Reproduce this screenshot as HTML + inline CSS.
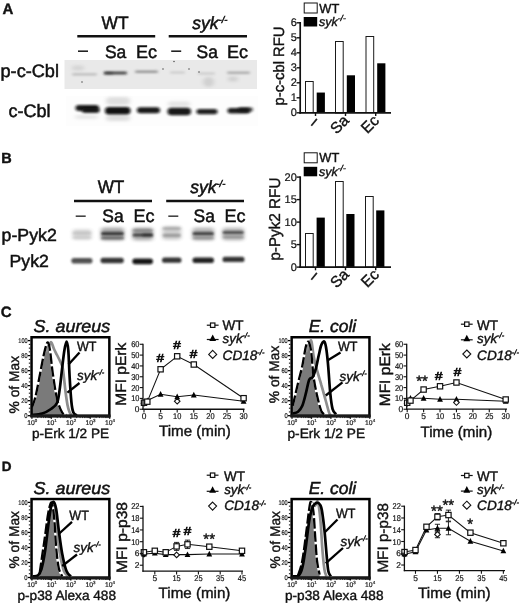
<!DOCTYPE html>
<html lang="en"><head><meta charset="utf-8"><title>Figure</title>
<style>
html,body{margin:0;padding:0;background:#fff}
body{width:520px;height:607px;overflow:hidden}
svg{display:block;font-family:'Liberation Sans', Arial, sans-serif;text-rendering:geometricPrecision}
</style></head><body>
<svg width="520" height="607" viewBox="0 0 520 607">
<rect width="520" height="607" fill="#fff"/>
<g style="opacity:.999">
<defs>
<filter id="b1" x="-30%" y="-100%" width="160%" height="300%"><feGaussianBlur stdDeviation="1.6 1.1"/></filter>
<filter id="b2" x="-30%" y="-100%" width="160%" height="300%"><feGaussianBlur stdDeviation="1.3 0.8"/></filter>
<filter id="b3" x="-30%" y="-100%" width="160%" height="300%"><feGaussianBlur stdDeviation="2.2 1.6"/></filter>
<filter id="b0" x="-30%" y="-100%" width="160%" height="300%"><feGaussianBlur stdDeviation="0.6"/></filter>
</defs>
<text x="2.4" y="14.4" font-size="15" font-weight="bold" fill="#111" stroke="#111" stroke-width="0.4" >A</text>
<text x="115" y="29.2" font-size="18" text-anchor="middle" textLength="27" lengthAdjust="spacingAndGlyphs" fill="#111" stroke="#111" stroke-width="0.5" >WT</text>
<text x="192.3" y="29.2" font-size="17.5" font-style="italic" fill="#111" stroke="#111" stroke-width="0.5" >syk<tspan font-size="9.5" dy="-6.5">-/-</tspan></text>
<line x1="77.3" y1="36.2" x2="155.2" y2="36.2" stroke="#111" stroke-width="2.5" stroke-linecap="butt"/>
<line x1="168.7" y1="36.2" x2="247" y2="36.2" stroke="#111" stroke-width="2.5" stroke-linecap="butt"/>
<line x1="78" y1="51.2" x2="88" y2="51.2" stroke="#222" stroke-width="1.6" stroke-linecap="butt"/>
<text x="105" y="57.5" font-size="18" textLength="21.3" lengthAdjust="spacingAndGlyphs" fill="#111" stroke="#111" stroke-width="0.5" >Sa</text>
<text x="136" y="57.5" font-size="18" textLength="21" lengthAdjust="spacingAndGlyphs" fill="#111" stroke="#111" stroke-width="0.5" >Ec</text>
<line x1="171.2" y1="51.2" x2="181.2" y2="51.2" stroke="#222" stroke-width="1.6" stroke-linecap="butt"/>
<text x="196.6" y="57.5" font-size="18" textLength="21.3" lengthAdjust="spacingAndGlyphs" fill="#111" stroke="#111" stroke-width="0.5" >Sa</text>
<text x="227" y="57.5" font-size="18" textLength="21" lengthAdjust="spacingAndGlyphs" fill="#111" stroke="#111" stroke-width="0.5" >Ec</text>
<text x="0.5" y="77.3" font-size="18" textLength="58.5" lengthAdjust="spacingAndGlyphs" fill="#111" stroke="#111" stroke-width="0.5" >p-c-Cbl</text>
<text x="8.6" y="117" font-size="18" textLength="42" lengthAdjust="spacingAndGlyphs" fill="#111" stroke="#111" stroke-width="0.5" >c-Cbl</text>
<rect x="64.5" y="60" width="192.5" height="29" fill="#e9e9e9" filter="url(#b0)"/>
<rect x="72" y="73.2" width="25" height="2.2" rx="1.1" fill="#666" opacity="0.35" filter="url(#b1)"/>
<rect x="104" y="71.6" width="23" height="2.8" rx="1.4" fill="#222" opacity="0.8" filter="url(#b1)"/>
<rect x="104" y="71.9" width="9" height="2.6" rx="1.3" fill="#222" opacity="0.4" filter="url(#b1)"/>
<rect x="135" y="70.6" width="23" height="2.4" rx="1.2" fill="#444" opacity="0.5" filter="url(#b1)"/>
<rect x="170" y="71.5" width="15" height="2" rx="1.0" fill="#666" opacity="0.25" filter="url(#b1)"/>
<rect x="198" y="72.5" width="17" height="2" rx="1.0" fill="#666" opacity="0.25" filter="url(#b1)"/>
<rect x="227" y="71.6" width="23" height="2.4" rx="1.2" fill="#555" opacity="0.4" filter="url(#b1)"/>
<rect x="203" y="77.0" width="11" height="10" rx="5.0" fill="#888" opacity="0.25" filter="url(#b3)"/>
<rect x="228" y="76.5" width="10" height="5" rx="2.5" fill="#888" opacity="0.25" filter="url(#b3)"/>
<rect x="72" y="65.5" width="12" height="5" rx="2.5" fill="#999" opacity="0.25" filter="url(#b3)"/>
<circle cx="82" cy="82" r="0.8" fill="#333" opacity=".8"/>
<circle cx="163" cy="69" r="0.8" fill="#333" opacity=".8"/>
<circle cx="174" cy="61.5" r="0.8" fill="#333" opacity=".8"/>
<circle cx="189" cy="69" r="0.8" fill="#333" opacity=".8"/>
<circle cx="199" cy="72" r="0.8" fill="#333" opacity=".8"/>
<rect x="66" y="96" width="192" height="30" fill="#fdfdfd" />
<rect x="75.5" y="105.0" width="23.5" height="6" rx="3.0" fill="#111" opacity="0.95" filter="url(#b1)"/>
<rect x="82" y="108.0" width="17.5" height="5" rx="2.5" fill="#111" opacity="0.85" filter="url(#b1)"/>
<rect x="105" y="107.05" width="25.5" height="7.5" rx="3.75" fill="#0a0a0a" opacity="0.98" filter="url(#b1)"/>
<rect x="137" y="107.2" width="23" height="6" rx="3.0" fill="#111" opacity="0.95" filter="url(#b1)"/>
<rect x="167.5" y="107.75" width="23.5" height="7.5" rx="3.75" fill="#111" opacity="0.95" filter="url(#b1)"/>
<rect x="196.5" y="109.0" width="21.0" height="5.2" rx="2.6" fill="#111" opacity="0.92" filter="url(#b1)"/>
<rect x="227.5" y="108.05" width="22.5" height="5.5" rx="2.75" fill="#111" opacity="0.93" filter="url(#b1)"/>
<rect x="238" y="107.25" width="15" height="4.5" rx="2.25" fill="#111" opacity="0.7" filter="url(#b1)"/>
<rect x="106" y="97.0" width="24" height="8" rx="4.0" fill="#999" opacity="0.3" filter="url(#b3)"/>
<rect x="106" y="115.0" width="24" height="6" rx="3.0" fill="#999" opacity="0.3" filter="url(#b3)"/>
<rect x="168" y="101.5" width="22" height="5" rx="2.5" fill="#999" opacity="0.25" filter="url(#b3)"/>
<rect x="75" y="115.0" width="23" height="4" rx="2.0" fill="#aaa" opacity="0.25" filter="url(#b3)"/>
<rect x="304.2" y="3.0" width="13" height="10" fill="#fff" stroke="#111" stroke-width="1" />
<rect x="303.7" y="17.0" width="13.5" height="9.5" fill="#000" />
<text x="319.3" y="12.5" font-size="13" textLength="20" lengthAdjust="spacingAndGlyphs" fill="#111" stroke="#111" stroke-width="0.4" >WT</text>
<text x="319" y="25.9" font-size="12.5" font-style="italic" fill="#111" stroke="#111" stroke-width="0.4" >syk<tspan font-size="8.5" dy="-4.8">-/-</tspan></text>
<rect x="305.5" y="81.5" width="7.7" height="31.0" fill="#fff" stroke="#1a1a1a" stroke-width="1" />
<rect x="316.7" y="92.55" width="8.2" height="20.25" fill="#000" />
<rect x="335.5" y="41.5" width="7.7" height="71.5" fill="#fff" stroke="#1a1a1a" stroke-width="1" />
<rect x="346.8" y="75.3" width="8.2" height="37.5" fill="#000" />
<rect x="366.0" y="36.5" width="7.7" height="76.0" fill="#fff" stroke="#1a1a1a" stroke-width="1" />
<rect x="377.2" y="63.3" width="8.2" height="49.5" fill="#000" />
<line x1="300.2" y1="21.999999999999996" x2="300.2" y2="113.64999999999999" stroke="#111" stroke-width="1.7" stroke-linecap="butt"/>
<line x1="299.34999999999997" y1="112.8" x2="391" y2="112.8" stroke="#111" stroke-width="1.7" stroke-linecap="butt"/>
<line x1="296.59999999999997" y1="112.8" x2="300.2" y2="112.8" stroke="#111" stroke-width="1.4" stroke-linecap="butt"/>
<text x="296.8" y="116.39999999999999" font-size="11" text-anchor="end" fill="#111" stroke="#111" stroke-width="0.2" >0</text>
<line x1="296.59999999999997" y1="97.8" x2="300.2" y2="97.8" stroke="#111" stroke-width="1.4" stroke-linecap="butt"/>
<text x="296.8" y="101.39999999999999" font-size="11" text-anchor="end" fill="#111" stroke="#111" stroke-width="0.2" >1</text>
<line x1="296.59999999999997" y1="82.8" x2="300.2" y2="82.8" stroke="#111" stroke-width="1.4" stroke-linecap="butt"/>
<text x="296.8" y="86.39999999999999" font-size="11" text-anchor="end" fill="#111" stroke="#111" stroke-width="0.2" >2</text>
<line x1="296.59999999999997" y1="67.8" x2="300.2" y2="67.8" stroke="#111" stroke-width="1.4" stroke-linecap="butt"/>
<text x="296.8" y="71.39999999999999" font-size="11" text-anchor="end" fill="#111" stroke="#111" stroke-width="0.2" >3</text>
<line x1="296.59999999999997" y1="52.8" x2="300.2" y2="52.8" stroke="#111" stroke-width="1.4" stroke-linecap="butt"/>
<text x="296.8" y="56.4" font-size="11" text-anchor="end" fill="#111" stroke="#111" stroke-width="0.2" >4</text>
<line x1="296.59999999999997" y1="37.8" x2="300.2" y2="37.8" stroke="#111" stroke-width="1.4" stroke-linecap="butt"/>
<text x="296.8" y="41.4" font-size="11" text-anchor="end" fill="#111" stroke="#111" stroke-width="0.2" >5</text>
<line x1="296.59999999999997" y1="22.799999999999997" x2="300.2" y2="22.799999999999997" stroke="#111" stroke-width="1.4" stroke-linecap="butt"/>
<text x="296.8" y="26.4" font-size="11" text-anchor="end" fill="#111" stroke="#111" stroke-width="0.2" >6</text>
<line x1="315.5" y1="112.8" x2="315.5" y2="116.0" stroke="#111" stroke-width="1.4" stroke-linecap="butt"/>
<line x1="311.3" y1="125.8" x2="316.9" y2="118.9" stroke="#222" stroke-width="1.7" stroke-linecap="butt"/>
<line x1="345.5" y1="112.8" x2="345.5" y2="116.0" stroke="#111" stroke-width="1.4" stroke-linecap="butt"/>
<text x="349.9" y="121.4" font-size="15.5" text-anchor="end" fill="#111" stroke="#111" stroke-width=".4" transform="rotate(-45 349.9 121.4)">Sa</text>
<line x1="375.7" y1="112.8" x2="375.7" y2="116.0" stroke="#111" stroke-width="1.4" stroke-linecap="butt"/>
<text x="380.09999999999997" y="121.4" font-size="15.5" text-anchor="end" fill="#111" stroke="#111" stroke-width=".4" transform="rotate(-45 380.09999999999997 121.4)">Ec</text>
<text x="284.2" y="105.5" font-size="15" textLength="79" lengthAdjust="spacingAndGlyphs" transform="rotate(-90 284.2 105.5)" fill="#111" stroke="#111" stroke-width="0.4" >p-c-cbl RFU</text>
<text x="1.2" y="162.5" font-size="14.5" font-weight="bold" fill="#111" stroke="#111" stroke-width="0.4" >B</text>
<text x="111" y="193" font-size="18" text-anchor="middle" textLength="26.7" lengthAdjust="spacingAndGlyphs" fill="#111" stroke="#111" stroke-width="0.5" >WT</text>
<text x="190.2" y="193" font-size="17.5" font-style="italic" fill="#111" stroke="#111" stroke-width="0.5" >syk<tspan font-size="9.5" dy="-6.5">-/-</tspan></text>
<line x1="74" y1="201" x2="152" y2="201" stroke="#111" stroke-width="2.5" stroke-linecap="butt"/>
<line x1="166.2" y1="201" x2="244" y2="201" stroke="#111" stroke-width="2.5" stroke-linecap="butt"/>
<line x1="75.7" y1="216.2" x2="85.7" y2="216.2" stroke="#444" stroke-width="1.6" stroke-linecap="butt"/>
<text x="102.3" y="221.8" font-size="18" textLength="21.3" lengthAdjust="spacingAndGlyphs" fill="#111" stroke="#111" stroke-width="0.5" >Sa</text>
<text x="133.5" y="221.8" font-size="18" textLength="21" lengthAdjust="spacingAndGlyphs" fill="#111" stroke="#111" stroke-width="0.5" >Ec</text>
<line x1="168.3" y1="216.2" x2="178.3" y2="216.2" stroke="#444" stroke-width="1.6" stroke-linecap="butt"/>
<text x="193.6" y="221.8" font-size="18" textLength="21.3" lengthAdjust="spacingAndGlyphs" fill="#111" stroke="#111" stroke-width="0.5" >Sa</text>
<text x="224.6" y="221.8" font-size="18" textLength="21" lengthAdjust="spacingAndGlyphs" fill="#111" stroke="#111" stroke-width="0.5" >Ec</text>
<text x="1.6" y="241" font-size="17.5" textLength="55.2" lengthAdjust="spacingAndGlyphs" fill="#111" stroke="#111" stroke-width="0.5" >p-Pyk2</text>
<text x="9.6" y="267" font-size="17.5" textLength="39.2" lengthAdjust="spacingAndGlyphs" fill="#111" stroke="#111" stroke-width="0.5" >Pyk2</text>
<rect x="72.5" y="229" width="19.0" height="11" rx="3" fill="#666" opacity="0.22" filter="url(#b3)"/>
<rect x="72.5" y="231.6" width="19.0" height="3.2" rx="1.6" fill="#555" opacity="0.18" filter="url(#b2)"/>
<rect x="72.5" y="236.2" width="19.0" height="2.6" rx="1.3" fill="#555" opacity="0.14" filter="url(#b2)"/>
<rect x="101" y="227.5" width="23" height="13.0" rx="3" fill="#666" opacity="0.55" filter="url(#b3)"/>
<rect x="101" y="232.0" width="23" height="3.2" rx="1.6" fill="#222" opacity="0.85" filter="url(#b2)"/>
<rect x="101" y="236.7" width="23" height="2.6" rx="1.3" fill="#222" opacity="0.55" filter="url(#b2)"/>
<rect x="132.5" y="227.5" width="20.5" height="13.0" rx="3" fill="#666" opacity="0.5" filter="url(#b3)"/>
<rect x="132.5" y="233.4" width="20.5" height="3.2" rx="1.6" fill="#222" opacity="0.8" filter="url(#b2)"/>
<rect x="132.5" y="229.2" width="20.5" height="2.6" rx="1.3" fill="#222" opacity="0.35" filter="url(#b2)"/>
<rect x="142" y="233.4" width="11" height="3.2" rx="1.6" fill="#111" opacity="0.45" filter="url(#b2)"/>
<rect x="162.5" y="226" width="18.5" height="14" rx="3" fill="#666" opacity="0.3" filter="url(#b3)"/>
<rect x="162.5" y="233.70000000000002" width="18.5" height="3.2" rx="1.6" fill="#444" opacity="0.38" filter="url(#b2)"/>
<rect x="162.5" y="227.2" width="18.5" height="2.6" rx="1.3" fill="#444" opacity="0.3" filter="url(#b2)"/>
<rect x="192.5" y="227.5" width="21.5" height="13.0" rx="3" fill="#666" opacity="0.45" filter="url(#b3)"/>
<rect x="192.5" y="232.1" width="21.5" height="3.2" rx="1.6" fill="#222" opacity="0.8" filter="url(#b2)"/>
<rect x="192.5" y="236.7" width="21.5" height="2.6" rx="1.3" fill="#222" opacity="0.3" filter="url(#b2)"/>
<rect x="222.5" y="227.5" width="21.5" height="13.0" rx="3" fill="#666" opacity="0.42" filter="url(#b3)"/>
<rect x="222.5" y="230.9" width="21.5" height="3.2" rx="1.6" fill="#222" opacity="0.72" filter="url(#b2)"/>
<rect x="222.5" y="235.7" width="21.5" height="2.6" rx="1.3" fill="#222" opacity="0.3" filter="url(#b2)"/>
<rect x="71.3" y="258.0" width="21.200000000000003" height="5.6" rx="2.8" fill="#333" opacity="0.85" filter="url(#b2)"/>
<rect x="100.5" y="257.8" width="23.299999999999997" height="5.4" rx="2.7" fill="#222" opacity="0.92" filter="url(#b2)"/>
<rect x="132.3" y="258.40000000000003" width="20.69999999999999" height="5.8" rx="2.9" fill="#111" opacity="0.97" filter="url(#b2)"/>
<rect x="162" y="257.59999999999997" width="19.5" height="5.2" rx="2.6" fill="#222" opacity="0.92" filter="url(#b2)"/>
<rect x="192.5" y="257.4" width="21.5" height="5.6" rx="2.8" fill="#151515" opacity="0.95" filter="url(#b2)"/>
<rect x="222.5" y="256.79999999999995" width="22.0" height="5.2" rx="2.6" fill="#222" opacity="0.92" filter="url(#b2)"/>
<rect x="304.2" y="152.8" width="13" height="10" fill="#fff" stroke="#111" stroke-width="1" />
<rect x="303.7" y="166.8" width="13.5" height="9.5" fill="#000" />
<text x="319.3" y="162.3" font-size="13" textLength="20" lengthAdjust="spacingAndGlyphs" fill="#111" stroke="#111" stroke-width="0.4" >WT</text>
<text x="319" y="175.70000000000002" font-size="12.5" font-style="italic" fill="#111" stroke="#111" stroke-width="0.4" >syk<tspan font-size="8.5" dy="-4.8">-/-</tspan></text>
<rect x="305.5" y="233.5" width="7.7" height="33.699999999999996" fill="#fff" stroke="#1a1a1a" stroke-width="1" />
<rect x="316.6" y="217.60000000000002" width="8.2" height="49.5" fill="#000" />
<rect x="335.5" y="181.5" width="7.7" height="85.45" fill="#fff" stroke="#1a1a1a" stroke-width="1" />
<rect x="346.3" y="214.00000000000003" width="8.2" height="53.1" fill="#000" />
<rect x="365.5" y="196.5" width="7.7" height="70.60000000000001" fill="#fff" stroke="#1a1a1a" stroke-width="1" />
<rect x="376.2" y="210.40000000000003" width="8.2" height="56.699999999999996" fill="#000" />
<line x1="300.2" y1="176.3" x2="300.2" y2="267.95000000000005" stroke="#111" stroke-width="1.7" stroke-linecap="butt"/>
<line x1="299.34999999999997" y1="267.1" x2="391" y2="267.1" stroke="#111" stroke-width="1.7" stroke-linecap="butt"/>
<line x1="296.59999999999997" y1="267.1" x2="300.2" y2="267.1" stroke="#111" stroke-width="1.4" stroke-linecap="butt"/>
<text x="296.8" y="270.70000000000005" font-size="11" text-anchor="end" fill="#111" stroke="#111" stroke-width="0.2" >0</text>
<line x1="296.59999999999997" y1="244.60000000000002" x2="300.2" y2="244.60000000000002" stroke="#111" stroke-width="1.4" stroke-linecap="butt"/>
<text x="296.8" y="248.20000000000002" font-size="11" text-anchor="end" fill="#111" stroke="#111" stroke-width="0.2" >5</text>
<line x1="296.59999999999997" y1="222.10000000000002" x2="300.2" y2="222.10000000000002" stroke="#111" stroke-width="1.4" stroke-linecap="butt"/>
<text x="296.8" y="225.70000000000002" font-size="11" text-anchor="end" fill="#111" stroke="#111" stroke-width="0.2" >10</text>
<line x1="296.59999999999997" y1="199.60000000000002" x2="300.2" y2="199.60000000000002" stroke="#111" stroke-width="1.4" stroke-linecap="butt"/>
<text x="296.8" y="203.20000000000002" font-size="11" text-anchor="end" fill="#111" stroke="#111" stroke-width="0.2" >15</text>
<line x1="296.59999999999997" y1="177.10000000000002" x2="300.2" y2="177.10000000000002" stroke="#111" stroke-width="1.4" stroke-linecap="butt"/>
<text x="296.8" y="180.70000000000002" font-size="11" text-anchor="end" fill="#111" stroke="#111" stroke-width="0.2" >20</text>
<line x1="315.5" y1="267.1" x2="315.5" y2="270.3" stroke="#111" stroke-width="1.4" stroke-linecap="butt"/>
<line x1="311.3" y1="279.8" x2="316.9" y2="272.9" stroke="#222" stroke-width="1.7" stroke-linecap="butt"/>
<line x1="345.5" y1="267.1" x2="345.5" y2="270.3" stroke="#111" stroke-width="1.4" stroke-linecap="butt"/>
<text x="349.9" y="275.4" font-size="15.5" text-anchor="end" fill="#111" stroke="#111" stroke-width=".4" transform="rotate(-45 349.9 275.4)">Sa</text>
<line x1="375.7" y1="267.1" x2="375.7" y2="270.3" stroke="#111" stroke-width="1.4" stroke-linecap="butt"/>
<text x="380.09999999999997" y="275.4" font-size="15.5" text-anchor="end" fill="#111" stroke="#111" stroke-width=".4" transform="rotate(-45 380.09999999999997 275.4)">Ec</text>
<text x="280.2" y="260.6" font-size="15.5" textLength="83" lengthAdjust="spacingAndGlyphs" transform="rotate(-90 280.2 260.6)" fill="#111" stroke="#111" stroke-width="0.4" >p-Pyk2 RFU</text>
<text x="0.8" y="316.7" font-size="15" font-weight="bold" fill="#111" stroke="#111" stroke-width="0.4" >C</text>
<text x="1.8" y="470.7" font-size="13.5" font-weight="bold" fill="#111" stroke="#111" stroke-width="0.4" >D</text>
<text x="33.6" y="331.9" font-size="17.3" font-style="italic" textLength="76.6" lengthAdjust="spacingAndGlyphs" fill="#111" stroke="#111" stroke-width="0.5" >S. aureus</text>
<path d="M31.9,407.4 C32.5,405.7 33.9,403.1 35.4,397.0 C36.9,390.9 39.2,378.2 40.6,371.0 C42.0,363.8 42.9,358.6 44.0,353.8 C45.1,349.1 46.5,343.1 47.5,342.5 C48.5,341.9 49.1,345.2 50.0,350.3 C50.9,355.4 51.5,364.7 52.7,372.8 C53.9,380.9 55.4,392.1 57.0,398.7 C58.6,405.3 60.6,409.9 62.2,412.6 C63.8,415.3 65.8,414.6 66.5,415.0 L66.5,415.7 L31.9,415.7 Z" fill="#7a7a7a"/>
<path d="M46.0,352.0 C46.5,351.0 48.1,347.6 49.0,346.0 C49.9,344.4 50.5,341.8 51.3,342.3 C52.1,342.8 53.0,346.9 54.0,349.0 C55.0,351.1 56.0,353.0 57.0,355.0 C58.0,357.0 59.1,359.0 60.0,361.0 C60.9,363.0 61.8,364.2 62.5,367.0 C63.2,369.8 63.5,373.7 64.0,378.0 C64.5,382.3 65.1,388.5 65.7,393.0 C66.3,397.5 66.9,401.8 67.5,405.0 C68.1,408.2 68.8,410.3 69.5,412.0 C70.2,413.7 71.2,414.5 71.5,415.0" fill="none" stroke="#8e8e8e" stroke-width="2.7" stroke-linejoin="round"/>
<path d="M31.9,407.4 C32.5,405.7 33.9,403.1 35.4,397.0 C36.9,390.9 39.2,378.2 40.6,371.0 C42.0,363.8 42.9,358.6 44.0,353.8 C45.1,349.1 46.5,343.1 47.5,342.5 C48.5,341.9 49.1,345.2 50.0,350.3 C50.9,355.4 51.5,364.7 52.7,372.8 C53.9,380.9 55.4,392.1 57.0,398.7 C58.6,405.3 60.6,409.9 62.2,412.6 C63.8,415.3 65.8,414.6 66.5,415.0" fill="none" stroke="#fff" stroke-width="2.2" stroke-linejoin="round"/>
<path d="M31.9,407.4 C32.5,405.7 33.9,403.1 35.4,397.0 C36.9,390.9 39.2,378.2 40.6,371.0 C42.0,363.8 42.9,358.6 44.0,353.8 C45.1,349.1 46.5,343.1 47.5,342.5 C48.5,341.9 49.1,345.2 50.0,350.3 C50.9,355.4 51.5,364.7 52.7,372.8 C53.9,380.9 55.4,392.1 57.0,398.7 C58.6,405.3 60.6,409.9 62.2,412.6 C63.8,415.3 65.8,414.6 66.5,415.0" fill="none" stroke="#000" stroke-width="2.3" stroke-dasharray="10.5 2.6" stroke-linejoin="round"/>
<path d="M31.9,415.0 C33.6,414.8 39.1,414.5 42.3,413.5 C45.5,412.5 48.5,410.8 51.0,409.0 C53.5,407.2 55.6,406.2 57.0,403.0 C58.4,399.8 58.7,395.9 59.6,390.0 C60.5,384.1 61.4,374.2 62.2,367.6 C63.0,361.0 63.7,354.6 64.4,350.3 C65.1,346.0 65.8,341.6 66.5,341.6 C67.2,341.6 67.8,344.5 68.3,350.3 C68.8,356.1 69.1,367.7 69.6,376.3 C70.1,384.9 70.8,395.9 71.4,402.0 C72.0,408.1 72.5,410.4 73.4,412.6 C74.3,414.8 76.3,414.8 76.9,415.2" fill="none" stroke="#000" stroke-width="2.7" stroke-linejoin="round"/>
<line x1="79.5" y1="352.5" x2="68.5" y2="364.5" stroke="#000" stroke-width="2.3" stroke-linecap="butt"/>
<line x1="79.5" y1="383" x2="67.4" y2="392.7" stroke="#000" stroke-width="2.3" stroke-linecap="butt"/>
<text x="77" y="351" font-size="13.5" textLength="19.5" lengthAdjust="spacingAndGlyphs" fill="#111" stroke="#111" stroke-width="0.4" >WT</text>
<text x="77" y="379.5" font-size="13.5" font-style="italic" fill="#111" stroke="#111" stroke-width="0.4" >syk<tspan font-size="7.5" dy="-4.5">-/-</tspan></text>
<rect x="31.55" y="337.25" width="77.8" height="78.69999999999999" fill="none" stroke="#000" stroke-width="2.5" />
<line x1="30.3" y1="416.09999999999997" x2="110.6" y2="416.09999999999997" stroke="#1a1a1a" stroke-width="3.0" stroke-linecap="butt"/>
<line x1="27.900000000000002" y1="340.6" x2="30.3" y2="340.6" stroke="#000" stroke-width="1.3" stroke-linecap="butt"/>
<text x="27.6" y="343.0" font-size="6.9" text-anchor="end" textLength="9.3" lengthAdjust="spacingAndGlyphs" fill="#222" stroke="#222" stroke-width="0.2" >100</text>
<line x1="28.8" y1="344.355" x2="30.3" y2="344.355" stroke="#000" stroke-width="1.0" stroke-linecap="butt"/>
<line x1="28.8" y1="348.11" x2="30.3" y2="348.11" stroke="#000" stroke-width="1.0" stroke-linecap="butt"/>
<line x1="28.8" y1="351.865" x2="30.3" y2="351.865" stroke="#000" stroke-width="1.0" stroke-linecap="butt"/>
<line x1="27.900000000000002" y1="355.62" x2="30.3" y2="355.62" stroke="#000" stroke-width="1.3" stroke-linecap="butt"/>
<text x="27.6" y="358.02" font-size="6.9" text-anchor="end" textLength="6.3" lengthAdjust="spacingAndGlyphs" fill="#222" stroke="#222" stroke-width="0.2" >80</text>
<line x1="28.8" y1="359.375" x2="30.3" y2="359.375" stroke="#000" stroke-width="1.0" stroke-linecap="butt"/>
<line x1="28.8" y1="363.13" x2="30.3" y2="363.13" stroke="#000" stroke-width="1.0" stroke-linecap="butt"/>
<line x1="28.8" y1="366.885" x2="30.3" y2="366.885" stroke="#000" stroke-width="1.0" stroke-linecap="butt"/>
<line x1="27.900000000000002" y1="370.64000000000004" x2="30.3" y2="370.64000000000004" stroke="#000" stroke-width="1.3" stroke-linecap="butt"/>
<text x="27.6" y="373.04" font-size="6.9" text-anchor="end" textLength="6.3" lengthAdjust="spacingAndGlyphs" fill="#222" stroke="#222" stroke-width="0.2" >60</text>
<line x1="28.8" y1="374.39500000000004" x2="30.3" y2="374.39500000000004" stroke="#000" stroke-width="1.0" stroke-linecap="butt"/>
<line x1="28.8" y1="378.15000000000003" x2="30.3" y2="378.15000000000003" stroke="#000" stroke-width="1.0" stroke-linecap="butt"/>
<line x1="28.8" y1="381.90500000000003" x2="30.3" y2="381.90500000000003" stroke="#000" stroke-width="1.0" stroke-linecap="butt"/>
<line x1="27.900000000000002" y1="385.66" x2="30.3" y2="385.66" stroke="#000" stroke-width="1.3" stroke-linecap="butt"/>
<text x="27.6" y="388.06" font-size="6.9" text-anchor="end" textLength="6.3" lengthAdjust="spacingAndGlyphs" fill="#222" stroke="#222" stroke-width="0.2" >40</text>
<line x1="28.8" y1="389.415" x2="30.3" y2="389.415" stroke="#000" stroke-width="1.0" stroke-linecap="butt"/>
<line x1="28.8" y1="393.17" x2="30.3" y2="393.17" stroke="#000" stroke-width="1.0" stroke-linecap="butt"/>
<line x1="28.8" y1="396.925" x2="30.3" y2="396.925" stroke="#000" stroke-width="1.0" stroke-linecap="butt"/>
<line x1="27.900000000000002" y1="400.68" x2="30.3" y2="400.68" stroke="#000" stroke-width="1.3" stroke-linecap="butt"/>
<text x="27.6" y="403.08" font-size="6.9" text-anchor="end" textLength="6.3" lengthAdjust="spacingAndGlyphs" fill="#222" stroke="#222" stroke-width="0.2" >20</text>
<line x1="28.8" y1="404.435" x2="30.3" y2="404.435" stroke="#000" stroke-width="1.0" stroke-linecap="butt"/>
<line x1="28.8" y1="408.19" x2="30.3" y2="408.19" stroke="#000" stroke-width="1.0" stroke-linecap="butt"/>
<line x1="28.8" y1="411.945" x2="30.3" y2="411.945" stroke="#000" stroke-width="1.0" stroke-linecap="butt"/>
<line x1="27.900000000000002" y1="415.70000000000005" x2="30.3" y2="415.70000000000005" stroke="#000" stroke-width="1.3" stroke-linecap="butt"/>
<text x="27.6" y="418.1" font-size="6.9" text-anchor="end" textLength="3.3" lengthAdjust="spacingAndGlyphs" fill="#222" stroke="#222" stroke-width="0.2" >0</text>
<line x1="31.900000000000002" y1="417.2" x2="31.900000000000002" y2="418.8" stroke="#000" stroke-width="1.3" stroke-linecap="butt"/>
<text x="32.2" y="424.7" font-size="6.8" text-anchor="middle" fill="#222" stroke="#222" stroke-width="0.2" >10<tspan font-size="4.4" dy="-2.7">0</tspan></text>
<line x1="37.77008491544763" y1="417.2" x2="37.77008491544763" y2="418.09999999999997" stroke="#000" stroke-width="0.8" stroke-linecap="butt"/>
<line x1="41.20386446703342" y1="417.2" x2="41.20386446703342" y2="418.09999999999997" stroke="#000" stroke-width="0.8" stroke-linecap="butt"/>
<line x1="43.64016983089527" y1="417.2" x2="43.64016983089527" y2="418.09999999999997" stroke="#000" stroke-width="0.8" stroke-linecap="butt"/>
<line x1="45.52991508455237" y1="417.2" x2="45.52991508455237" y2="418.09999999999997" stroke="#000" stroke-width="0.8" stroke-linecap="butt"/>
<line x1="47.073949382481054" y1="417.2" x2="47.073949382481054" y2="418.09999999999997" stroke="#000" stroke-width="0.8" stroke-linecap="butt"/>
<line x1="48.379411780278005" y1="417.2" x2="48.379411780278005" y2="418.09999999999997" stroke="#000" stroke-width="0.8" stroke-linecap="butt"/>
<line x1="49.5102547463429" y1="417.2" x2="49.5102547463429" y2="418.09999999999997" stroke="#000" stroke-width="0.8" stroke-linecap="butt"/>
<line x1="50.50772893406683" y1="417.2" x2="50.50772893406683" y2="418.09999999999997" stroke="#000" stroke-width="0.8" stroke-linecap="butt"/>
<line x1="51.35" y1="417.2" x2="51.35" y2="418.8" stroke="#000" stroke-width="1.3" stroke-linecap="butt"/>
<text x="51.65" y="424.7" font-size="6.8" text-anchor="middle" fill="#222" stroke="#222" stroke-width="0.2" >10<tspan font-size="4.4" dy="-2.7">1</tspan></text>
<line x1="57.220084915447636" y1="417.2" x2="57.220084915447636" y2="418.09999999999997" stroke="#000" stroke-width="0.8" stroke-linecap="butt"/>
<line x1="60.653864467033415" y1="417.2" x2="60.653864467033415" y2="418.09999999999997" stroke="#000" stroke-width="0.8" stroke-linecap="butt"/>
<line x1="63.09016983089527" y1="417.2" x2="63.09016983089527" y2="418.09999999999997" stroke="#000" stroke-width="0.8" stroke-linecap="butt"/>
<line x1="64.97991508455237" y1="417.2" x2="64.97991508455237" y2="418.09999999999997" stroke="#000" stroke-width="0.8" stroke-linecap="butt"/>
<line x1="66.52394938248105" y1="417.2" x2="66.52394938248105" y2="418.09999999999997" stroke="#000" stroke-width="0.8" stroke-linecap="butt"/>
<line x1="67.82941178027801" y1="417.2" x2="67.82941178027801" y2="418.09999999999997" stroke="#000" stroke-width="0.8" stroke-linecap="butt"/>
<line x1="68.9602547463429" y1="417.2" x2="68.9602547463429" y2="418.09999999999997" stroke="#000" stroke-width="0.8" stroke-linecap="butt"/>
<line x1="69.95772893406684" y1="417.2" x2="69.95772893406684" y2="418.09999999999997" stroke="#000" stroke-width="0.8" stroke-linecap="butt"/>
<line x1="70.8" y1="417.2" x2="70.8" y2="418.8" stroke="#000" stroke-width="1.3" stroke-linecap="butt"/>
<text x="71.1" y="424.7" font-size="6.8" text-anchor="middle" fill="#222" stroke="#222" stroke-width="0.2" >10<tspan font-size="4.4" dy="-2.7">2</tspan></text>
<line x1="76.67008491544763" y1="417.2" x2="76.67008491544763" y2="418.09999999999997" stroke="#000" stroke-width="0.8" stroke-linecap="butt"/>
<line x1="80.10386446703342" y1="417.2" x2="80.10386446703342" y2="418.09999999999997" stroke="#000" stroke-width="0.8" stroke-linecap="butt"/>
<line x1="82.54016983089527" y1="417.2" x2="82.54016983089527" y2="418.09999999999997" stroke="#000" stroke-width="0.8" stroke-linecap="butt"/>
<line x1="84.42991508455236" y1="417.2" x2="84.42991508455236" y2="418.09999999999997" stroke="#000" stroke-width="0.8" stroke-linecap="butt"/>
<line x1="85.97394938248105" y1="417.2" x2="85.97394938248105" y2="418.09999999999997" stroke="#000" stroke-width="0.8" stroke-linecap="butt"/>
<line x1="87.279411780278" y1="417.2" x2="87.279411780278" y2="418.09999999999997" stroke="#000" stroke-width="0.8" stroke-linecap="butt"/>
<line x1="88.4102547463429" y1="417.2" x2="88.4102547463429" y2="418.09999999999997" stroke="#000" stroke-width="0.8" stroke-linecap="butt"/>
<line x1="89.40772893406682" y1="417.2" x2="89.40772893406682" y2="418.09999999999997" stroke="#000" stroke-width="0.8" stroke-linecap="butt"/>
<line x1="90.25" y1="417.2" x2="90.25" y2="418.8" stroke="#000" stroke-width="1.3" stroke-linecap="butt"/>
<text x="90.55" y="424.7" font-size="6.8" text-anchor="middle" fill="#222" stroke="#222" stroke-width="0.2" >10<tspan font-size="4.4" dy="-2.7">3</tspan></text>
<line x1="96.12008491544763" y1="417.2" x2="96.12008491544763" y2="418.09999999999997" stroke="#000" stroke-width="0.8" stroke-linecap="butt"/>
<line x1="99.55386446703342" y1="417.2" x2="99.55386446703342" y2="418.09999999999997" stroke="#000" stroke-width="0.8" stroke-linecap="butt"/>
<line x1="101.99016983089527" y1="417.2" x2="101.99016983089527" y2="418.09999999999997" stroke="#000" stroke-width="0.8" stroke-linecap="butt"/>
<line x1="103.87991508455237" y1="417.2" x2="103.87991508455237" y2="418.09999999999997" stroke="#000" stroke-width="0.8" stroke-linecap="butt"/>
<line x1="105.42394938248106" y1="417.2" x2="105.42394938248106" y2="418.09999999999997" stroke="#000" stroke-width="0.8" stroke-linecap="butt"/>
<line x1="106.72941178027801" y1="417.2" x2="106.72941178027801" y2="418.09999999999997" stroke="#000" stroke-width="0.8" stroke-linecap="butt"/>
<line x1="107.8602547463429" y1="417.2" x2="107.8602547463429" y2="418.09999999999997" stroke="#000" stroke-width="0.8" stroke-linecap="butt"/>
<line x1="108.85772893406684" y1="417.2" x2="108.85772893406684" y2="418.09999999999997" stroke="#000" stroke-width="0.8" stroke-linecap="butt"/>
<line x1="109.7" y1="417.2" x2="109.7" y2="418.8" stroke="#000" stroke-width="1.3" stroke-linecap="butt"/>
<text x="110.0" y="424.7" font-size="6.8" text-anchor="middle" fill="#222" stroke="#222" stroke-width="0.2" >10<tspan font-size="4.4" dy="-2.7">4</tspan></text>
<text x="19.4" y="413.4" font-size="14" textLength="57.5" lengthAdjust="spacingAndGlyphs" transform="rotate(-90 19.4 413.4)" fill="#111" stroke="#111" stroke-width="0.4" >% of Max</text>
<text x="32" y="437.8" font-size="13.5" textLength="77" lengthAdjust="spacingAndGlyphs" fill="#111" stroke="#111" stroke-width="0.4" >p-Erk 1/2 PE</text>
<text x="308.7" y="331.9" font-size="17.3" font-style="italic" textLength="47.5" lengthAdjust="spacingAndGlyphs" fill="#111" stroke="#111" stroke-width="0.5" >E. coli</text>
<path d="M292.8,405.7 C293.7,401.9 296.4,389.8 298.0,383.2 C299.6,376.6 301.0,372.0 302.3,365.9 C303.6,359.8 304.8,350.8 305.8,346.8 C306.8,342.8 307.5,341.1 308.4,341.7 C309.3,342.3 310.1,344.5 311.0,350.3 C311.9,356.1 312.5,368.8 313.5,376.3 C314.5,383.8 315.7,389.5 317.0,395.3 C318.3,401.1 319.9,407.6 321.3,410.9 C322.8,414.2 325.0,414.5 325.7,415.2 L325.7,415.7 L292.8,415.7 Z" fill="#7a7a7a"/>
<path d="M306.0,352.0 C306.5,350.8 308.1,346.9 309.0,345.0 C309.9,343.1 310.6,339.1 311.3,340.8 C312.1,342.6 312.6,350.6 313.5,355.5 C314.4,360.4 315.7,365.3 317.0,370.2 C318.3,375.1 319.9,379.8 321.3,384.9 C322.8,389.9 324.4,395.9 325.7,400.5 C327.0,405.1 328.2,410.2 329.1,412.6 C330.0,415.1 330.5,414.8 330.8,415.2" fill="none" stroke="#8e8e8e" stroke-width="2.7" stroke-linejoin="round"/>
<path d="M292.8,405.7 C293.7,401.9 296.4,389.8 298.0,383.2 C299.6,376.6 301.0,372.0 302.3,365.9 C303.6,359.8 304.8,350.8 305.8,346.8 C306.8,342.8 307.5,341.1 308.4,341.7 C309.3,342.3 310.1,344.5 311.0,350.3 C311.9,356.1 312.5,368.8 313.5,376.3 C314.5,383.8 315.7,389.5 317.0,395.3 C318.3,401.1 319.9,407.6 321.3,410.9 C322.8,414.2 325.0,414.5 325.7,415.2" fill="none" stroke="#fff" stroke-width="2.2" stroke-linejoin="round"/>
<path d="M292.8,405.7 C293.7,401.9 296.4,389.8 298.0,383.2 C299.6,376.6 301.0,372.0 302.3,365.9 C303.6,359.8 304.8,350.8 305.8,346.8 C306.8,342.8 307.5,341.1 308.4,341.7 C309.3,342.3 310.1,344.5 311.0,350.3 C311.9,356.1 312.5,368.8 313.5,376.3 C314.5,383.8 315.7,389.5 317.0,395.3 C318.3,401.1 319.9,407.6 321.3,410.9 C322.8,414.2 325.0,414.5 325.7,415.2" fill="none" stroke="#000" stroke-width="2.3" stroke-dasharray="10.5 2.6" stroke-linejoin="round"/>
<path d="M292.8,413.5 C293.7,413.2 296.4,413.0 298.0,411.7 C299.6,410.4 301.0,408.7 302.3,405.7 C303.6,402.7 304.7,397.9 305.8,393.6 C306.9,389.3 308.1,382.4 309.2,379.7 C310.3,376.9 311.5,379.1 312.7,377.1 C313.9,375.1 315.1,371.2 316.1,367.6 C317.1,364.0 317.8,359.2 318.7,355.5 C319.6,351.8 320.4,347.4 321.3,345.1 C322.2,342.8 323.5,340.8 324.4,341.7 C325.3,342.6 325.9,346.0 326.5,350.3 C327.1,354.6 327.7,360.4 328.3,367.6 C328.9,374.8 329.6,386.7 330.3,393.6 C331.0,400.5 331.7,405.7 332.6,409.1 C333.6,412.6 335.4,413.4 336.0,414.3" fill="none" stroke="#000" stroke-width="2.7" stroke-linejoin="round"/>
<line x1="340.5" y1="352.5" x2="328.3" y2="360" stroke="#000" stroke-width="2.3" stroke-linecap="butt"/>
<line x1="342.5" y1="382.3" x2="325.7" y2="395.5" stroke="#000" stroke-width="2.3" stroke-linecap="butt"/>
<text x="338" y="350.5" font-size="13.5" textLength="19.5" lengthAdjust="spacingAndGlyphs" fill="#111" stroke="#111" stroke-width="0.4" >WT</text>
<text x="339.5" y="380.5" font-size="13.5" font-style="italic" fill="#111" stroke="#111" stroke-width="0.4" >syk<tspan font-size="7.5" dy="-4.5">-/-</tspan></text>
<rect x="291.65" y="337.25" width="77.80000000000001" height="78.69999999999999" fill="none" stroke="#000" stroke-width="2.5" />
<line x1="290.4" y1="416.09999999999997" x2="370.7" y2="416.09999999999997" stroke="#1a1a1a" stroke-width="3.0" stroke-linecap="butt"/>
<line x1="288.0" y1="340.6" x2="290.4" y2="340.6" stroke="#000" stroke-width="1.3" stroke-linecap="butt"/>
<text x="287.7" y="343.0" font-size="6.9" text-anchor="end" textLength="9.3" lengthAdjust="spacingAndGlyphs" fill="#222" stroke="#222" stroke-width="0.2" >100</text>
<line x1="288.9" y1="344.355" x2="290.4" y2="344.355" stroke="#000" stroke-width="1.0" stroke-linecap="butt"/>
<line x1="288.9" y1="348.11" x2="290.4" y2="348.11" stroke="#000" stroke-width="1.0" stroke-linecap="butt"/>
<line x1="288.9" y1="351.865" x2="290.4" y2="351.865" stroke="#000" stroke-width="1.0" stroke-linecap="butt"/>
<line x1="288.0" y1="355.62" x2="290.4" y2="355.62" stroke="#000" stroke-width="1.3" stroke-linecap="butt"/>
<text x="287.7" y="358.02" font-size="6.9" text-anchor="end" textLength="6.3" lengthAdjust="spacingAndGlyphs" fill="#222" stroke="#222" stroke-width="0.2" >80</text>
<line x1="288.9" y1="359.375" x2="290.4" y2="359.375" stroke="#000" stroke-width="1.0" stroke-linecap="butt"/>
<line x1="288.9" y1="363.13" x2="290.4" y2="363.13" stroke="#000" stroke-width="1.0" stroke-linecap="butt"/>
<line x1="288.9" y1="366.885" x2="290.4" y2="366.885" stroke="#000" stroke-width="1.0" stroke-linecap="butt"/>
<line x1="288.0" y1="370.64000000000004" x2="290.4" y2="370.64000000000004" stroke="#000" stroke-width="1.3" stroke-linecap="butt"/>
<text x="287.7" y="373.04" font-size="6.9" text-anchor="end" textLength="6.3" lengthAdjust="spacingAndGlyphs" fill="#222" stroke="#222" stroke-width="0.2" >60</text>
<line x1="288.9" y1="374.39500000000004" x2="290.4" y2="374.39500000000004" stroke="#000" stroke-width="1.0" stroke-linecap="butt"/>
<line x1="288.9" y1="378.15000000000003" x2="290.4" y2="378.15000000000003" stroke="#000" stroke-width="1.0" stroke-linecap="butt"/>
<line x1="288.9" y1="381.90500000000003" x2="290.4" y2="381.90500000000003" stroke="#000" stroke-width="1.0" stroke-linecap="butt"/>
<line x1="288.0" y1="385.66" x2="290.4" y2="385.66" stroke="#000" stroke-width="1.3" stroke-linecap="butt"/>
<text x="287.7" y="388.06" font-size="6.9" text-anchor="end" textLength="6.3" lengthAdjust="spacingAndGlyphs" fill="#222" stroke="#222" stroke-width="0.2" >40</text>
<line x1="288.9" y1="389.415" x2="290.4" y2="389.415" stroke="#000" stroke-width="1.0" stroke-linecap="butt"/>
<line x1="288.9" y1="393.17" x2="290.4" y2="393.17" stroke="#000" stroke-width="1.0" stroke-linecap="butt"/>
<line x1="288.9" y1="396.925" x2="290.4" y2="396.925" stroke="#000" stroke-width="1.0" stroke-linecap="butt"/>
<line x1="288.0" y1="400.68" x2="290.4" y2="400.68" stroke="#000" stroke-width="1.3" stroke-linecap="butt"/>
<text x="287.7" y="403.08" font-size="6.9" text-anchor="end" textLength="6.3" lengthAdjust="spacingAndGlyphs" fill="#222" stroke="#222" stroke-width="0.2" >20</text>
<line x1="288.9" y1="404.435" x2="290.4" y2="404.435" stroke="#000" stroke-width="1.0" stroke-linecap="butt"/>
<line x1="288.9" y1="408.19" x2="290.4" y2="408.19" stroke="#000" stroke-width="1.0" stroke-linecap="butt"/>
<line x1="288.9" y1="411.945" x2="290.4" y2="411.945" stroke="#000" stroke-width="1.0" stroke-linecap="butt"/>
<line x1="288.0" y1="415.70000000000005" x2="290.4" y2="415.70000000000005" stroke="#000" stroke-width="1.3" stroke-linecap="butt"/>
<text x="287.7" y="418.1" font-size="6.9" text-anchor="end" textLength="3.3" lengthAdjust="spacingAndGlyphs" fill="#222" stroke="#222" stroke-width="0.2" >0</text>
<line x1="292.0" y1="417.2" x2="292.0" y2="418.8" stroke="#000" stroke-width="1.3" stroke-linecap="butt"/>
<text x="292.3" y="424.7" font-size="6.8" text-anchor="middle" fill="#222" stroke="#222" stroke-width="0.2" >10<tspan font-size="4.4" dy="-2.7">0</tspan></text>
<line x1="297.87008491544765" y1="417.2" x2="297.87008491544765" y2="418.09999999999997" stroke="#000" stroke-width="0.8" stroke-linecap="butt"/>
<line x1="301.3038644670334" y1="417.2" x2="301.3038644670334" y2="418.09999999999997" stroke="#000" stroke-width="0.8" stroke-linecap="butt"/>
<line x1="303.74016983089524" y1="417.2" x2="303.74016983089524" y2="418.09999999999997" stroke="#000" stroke-width="0.8" stroke-linecap="butt"/>
<line x1="305.62991508455235" y1="417.2" x2="305.62991508455235" y2="418.09999999999997" stroke="#000" stroke-width="0.8" stroke-linecap="butt"/>
<line x1="307.17394938248106" y1="417.2" x2="307.17394938248106" y2="418.09999999999997" stroke="#000" stroke-width="0.8" stroke-linecap="butt"/>
<line x1="308.479411780278" y1="417.2" x2="308.479411780278" y2="418.09999999999997" stroke="#000" stroke-width="0.8" stroke-linecap="butt"/>
<line x1="309.6102547463429" y1="417.2" x2="309.6102547463429" y2="418.09999999999997" stroke="#000" stroke-width="0.8" stroke-linecap="butt"/>
<line x1="310.6077289340668" y1="417.2" x2="310.6077289340668" y2="418.09999999999997" stroke="#000" stroke-width="0.8" stroke-linecap="butt"/>
<line x1="311.45" y1="417.2" x2="311.45" y2="418.8" stroke="#000" stroke-width="1.3" stroke-linecap="butt"/>
<text x="311.75" y="424.7" font-size="6.8" text-anchor="middle" fill="#222" stroke="#222" stroke-width="0.2" >10<tspan font-size="4.4" dy="-2.7">1</tspan></text>
<line x1="317.32008491544764" y1="417.2" x2="317.32008491544764" y2="418.09999999999997" stroke="#000" stroke-width="0.8" stroke-linecap="butt"/>
<line x1="320.7538644670334" y1="417.2" x2="320.7538644670334" y2="418.09999999999997" stroke="#000" stroke-width="0.8" stroke-linecap="butt"/>
<line x1="323.19016983089523" y1="417.2" x2="323.19016983089523" y2="418.09999999999997" stroke="#000" stroke-width="0.8" stroke-linecap="butt"/>
<line x1="325.07991508455234" y1="417.2" x2="325.07991508455234" y2="418.09999999999997" stroke="#000" stroke-width="0.8" stroke-linecap="butt"/>
<line x1="326.62394938248104" y1="417.2" x2="326.62394938248104" y2="418.09999999999997" stroke="#000" stroke-width="0.8" stroke-linecap="butt"/>
<line x1="327.929411780278" y1="417.2" x2="327.929411780278" y2="418.09999999999997" stroke="#000" stroke-width="0.8" stroke-linecap="butt"/>
<line x1="329.0602547463429" y1="417.2" x2="329.0602547463429" y2="418.09999999999997" stroke="#000" stroke-width="0.8" stroke-linecap="butt"/>
<line x1="330.0577289340668" y1="417.2" x2="330.0577289340668" y2="418.09999999999997" stroke="#000" stroke-width="0.8" stroke-linecap="butt"/>
<line x1="330.9" y1="417.2" x2="330.9" y2="418.8" stroke="#000" stroke-width="1.3" stroke-linecap="butt"/>
<text x="331.2" y="424.7" font-size="6.8" text-anchor="middle" fill="#222" stroke="#222" stroke-width="0.2" >10<tspan font-size="4.4" dy="-2.7">2</tspan></text>
<line x1="336.7700849154476" y1="417.2" x2="336.7700849154476" y2="418.09999999999997" stroke="#000" stroke-width="0.8" stroke-linecap="butt"/>
<line x1="340.2038644670334" y1="417.2" x2="340.2038644670334" y2="418.09999999999997" stroke="#000" stroke-width="0.8" stroke-linecap="butt"/>
<line x1="342.6401698308952" y1="417.2" x2="342.6401698308952" y2="418.09999999999997" stroke="#000" stroke-width="0.8" stroke-linecap="butt"/>
<line x1="344.52991508455233" y1="417.2" x2="344.52991508455233" y2="418.09999999999997" stroke="#000" stroke-width="0.8" stroke-linecap="butt"/>
<line x1="346.07394938248103" y1="417.2" x2="346.07394938248103" y2="418.09999999999997" stroke="#000" stroke-width="0.8" stroke-linecap="butt"/>
<line x1="347.37941178027796" y1="417.2" x2="347.37941178027796" y2="418.09999999999997" stroke="#000" stroke-width="0.8" stroke-linecap="butt"/>
<line x1="348.51025474634287" y1="417.2" x2="348.51025474634287" y2="418.09999999999997" stroke="#000" stroke-width="0.8" stroke-linecap="butt"/>
<line x1="349.5077289340668" y1="417.2" x2="349.5077289340668" y2="418.09999999999997" stroke="#000" stroke-width="0.8" stroke-linecap="butt"/>
<line x1="350.35" y1="417.2" x2="350.35" y2="418.8" stroke="#000" stroke-width="1.3" stroke-linecap="butt"/>
<text x="350.65000000000003" y="424.7" font-size="6.8" text-anchor="middle" fill="#222" stroke="#222" stroke-width="0.2" >10<tspan font-size="4.4" dy="-2.7">3</tspan></text>
<line x1="356.22008491544767" y1="417.2" x2="356.22008491544767" y2="418.09999999999997" stroke="#000" stroke-width="0.8" stroke-linecap="butt"/>
<line x1="359.65386446703343" y1="417.2" x2="359.65386446703343" y2="418.09999999999997" stroke="#000" stroke-width="0.8" stroke-linecap="butt"/>
<line x1="362.09016983089526" y1="417.2" x2="362.09016983089526" y2="418.09999999999997" stroke="#000" stroke-width="0.8" stroke-linecap="butt"/>
<line x1="363.9799150845524" y1="417.2" x2="363.9799150845524" y2="418.09999999999997" stroke="#000" stroke-width="0.8" stroke-linecap="butt"/>
<line x1="365.5239493824811" y1="417.2" x2="365.5239493824811" y2="418.09999999999997" stroke="#000" stroke-width="0.8" stroke-linecap="butt"/>
<line x1="366.829411780278" y1="417.2" x2="366.829411780278" y2="418.09999999999997" stroke="#000" stroke-width="0.8" stroke-linecap="butt"/>
<line x1="367.9602547463429" y1="417.2" x2="367.9602547463429" y2="418.09999999999997" stroke="#000" stroke-width="0.8" stroke-linecap="butt"/>
<line x1="368.95772893406684" y1="417.2" x2="368.95772893406684" y2="418.09999999999997" stroke="#000" stroke-width="0.8" stroke-linecap="butt"/>
<line x1="369.8" y1="417.2" x2="369.8" y2="418.8" stroke="#000" stroke-width="1.3" stroke-linecap="butt"/>
<text x="370.1" y="424.7" font-size="6.8" text-anchor="middle" fill="#222" stroke="#222" stroke-width="0.2" >10<tspan font-size="4.4" dy="-2.7">4</tspan></text>
<text x="279.5" y="403.2" font-size="14" textLength="57.5" lengthAdjust="spacingAndGlyphs" transform="rotate(-90 279.5 403.2)" fill="#111" stroke="#111" stroke-width="0.4" >% of Max</text>
<text x="287.5" y="437.8" font-size="13.5" textLength="77.5" lengthAdjust="spacingAndGlyphs" fill="#111" stroke="#111" stroke-width="0.4" >p-Erk 1/2 PE</text>
<text x="33.6" y="493.7" font-size="17.3" font-style="italic" textLength="76.6" lengthAdjust="spacingAndGlyphs" fill="#111" stroke="#111" stroke-width="0.5" >S. aureus</text>
<path d="M39.7,572.9 C40.4,568.0 42.5,553.5 44.0,543.4 C45.5,533.3 47.1,519.1 48.4,512.3 C49.7,505.5 50.8,501.4 51.8,502.8 C52.8,504.2 53.7,513.6 54.4,521.0 C55.1,528.4 55.4,539.1 56.1,546.9 C56.8,554.7 57.7,562.8 58.7,567.7 C59.7,572.6 61.6,574.9 62.2,576.3 L62.2,577.5 L39.7,577.5 Z" fill="#7a7a7a"/>
<path d="M40.5,572.9 C41.2,568.4 43.2,555.6 44.6,546.0 C46.0,536.4 47.5,522.2 48.8,515.0 C50.1,507.8 51.5,503.3 52.5,502.8 C53.5,502.3 54.2,507.5 55.0,512.0 C55.8,516.5 56.2,522.9 57.0,529.6 C57.8,536.3 58.5,545.1 59.6,552.0 C60.8,558.9 62.5,567.0 63.9,571.0 C65.3,575.0 67.6,575.4 68.3,576.3" fill="none" stroke="#8e8e8e" stroke-width="2.7" stroke-linejoin="round"/>
<path d="M39.7,572.9 C40.4,568.0 42.5,553.5 44.0,543.4 C45.5,533.3 47.1,519.1 48.4,512.3 C49.7,505.5 50.8,501.4 51.8,502.8 C52.8,504.2 53.7,513.6 54.4,521.0 C55.1,528.4 55.4,539.1 56.1,546.9 C56.8,554.7 57.7,562.8 58.7,567.7 C59.7,572.6 61.6,574.9 62.2,576.3" fill="none" stroke="#fff" stroke-width="2.2" stroke-linejoin="round"/>
<path d="M39.7,572.9 C40.4,568.0 42.5,553.5 44.0,543.4 C45.5,533.3 47.1,519.1 48.4,512.3 C49.7,505.5 50.8,501.4 51.8,502.8 C52.8,504.2 53.7,513.6 54.4,521.0 C55.1,528.4 55.4,539.1 56.1,546.9 C56.8,554.7 57.7,562.8 58.7,567.7 C59.7,572.6 61.6,574.9 62.2,576.3" fill="none" stroke="#000" stroke-width="2.3" stroke-dasharray="10.5 2.6" stroke-linejoin="round"/>
<path d="M32.8,576.3 C33.7,576.1 36.6,576.5 38.0,575.4 C39.4,574.2 40.2,573.3 41.4,569.4 C42.5,565.5 43.7,559.6 44.9,552.1 C46.1,544.6 47.4,531.9 48.4,524.4 C49.4,516.9 50.1,510.9 51.0,507.1 C51.9,503.4 52.6,501.6 53.5,501.9 C54.4,502.2 55.2,504.2 56.1,508.8 C57.0,513.4 57.7,522.1 58.7,529.6 C59.7,537.1 60.9,546.9 62.2,553.8 C63.5,560.7 65.1,567.4 66.5,571.1 C67.9,574.9 70.1,575.4 70.8,576.3" fill="none" stroke="#000" stroke-width="2.7" stroke-linejoin="round"/>
<line x1="72" y1="521.8" x2="58.7" y2="534" stroke="#000" stroke-width="2.3" stroke-linecap="butt"/>
<line x1="77" y1="554.5" x2="62.2" y2="566" stroke="#000" stroke-width="2.3" stroke-linecap="butt"/>
<text x="69.3" y="520.3" font-size="13.5" textLength="19.5" lengthAdjust="spacingAndGlyphs" fill="#111" stroke="#111" stroke-width="0.4" >WT</text>
<text x="73.5" y="551.5" font-size="13.5" font-style="italic" fill="#111" stroke="#111" stroke-width="0.4" >syk<tspan font-size="7.5" dy="-4.5">-/-</tspan></text>
<rect x="31.55" y="499.05" width="77.8" height="78.69999999999999" fill="none" stroke="#000" stroke-width="2.5" />
<line x1="30.3" y1="577.9" x2="110.6" y2="577.9" stroke="#1a1a1a" stroke-width="3.0" stroke-linecap="butt"/>
<line x1="27.900000000000002" y1="502.40000000000003" x2="30.3" y2="502.40000000000003" stroke="#000" stroke-width="1.3" stroke-linecap="butt"/>
<text x="27.6" y="504.8" font-size="6.9" text-anchor="end" textLength="9.3" lengthAdjust="spacingAndGlyphs" fill="#222" stroke="#222" stroke-width="0.2" >100</text>
<line x1="28.8" y1="506.15500000000003" x2="30.3" y2="506.15500000000003" stroke="#000" stroke-width="1.0" stroke-linecap="butt"/>
<line x1="28.8" y1="509.91" x2="30.3" y2="509.91" stroke="#000" stroke-width="1.0" stroke-linecap="butt"/>
<line x1="28.8" y1="513.6650000000001" x2="30.3" y2="513.6650000000001" stroke="#000" stroke-width="1.0" stroke-linecap="butt"/>
<line x1="27.900000000000002" y1="517.4200000000001" x2="30.3" y2="517.4200000000001" stroke="#000" stroke-width="1.3" stroke-linecap="butt"/>
<text x="27.6" y="519.82" font-size="6.9" text-anchor="end" textLength="6.3" lengthAdjust="spacingAndGlyphs" fill="#222" stroke="#222" stroke-width="0.2" >80</text>
<line x1="28.8" y1="521.1750000000001" x2="30.3" y2="521.1750000000001" stroke="#000" stroke-width="1.0" stroke-linecap="butt"/>
<line x1="28.8" y1="524.9300000000001" x2="30.3" y2="524.9300000000001" stroke="#000" stroke-width="1.0" stroke-linecap="butt"/>
<line x1="28.8" y1="528.6850000000001" x2="30.3" y2="528.6850000000001" stroke="#000" stroke-width="1.0" stroke-linecap="butt"/>
<line x1="27.900000000000002" y1="532.44" x2="30.3" y2="532.44" stroke="#000" stroke-width="1.3" stroke-linecap="butt"/>
<text x="27.6" y="534.84" font-size="6.9" text-anchor="end" textLength="6.3" lengthAdjust="spacingAndGlyphs" fill="#222" stroke="#222" stroke-width="0.2" >60</text>
<line x1="28.8" y1="536.195" x2="30.3" y2="536.195" stroke="#000" stroke-width="1.0" stroke-linecap="butt"/>
<line x1="28.8" y1="539.95" x2="30.3" y2="539.95" stroke="#000" stroke-width="1.0" stroke-linecap="butt"/>
<line x1="28.8" y1="543.705" x2="30.3" y2="543.705" stroke="#000" stroke-width="1.0" stroke-linecap="butt"/>
<line x1="27.900000000000002" y1="547.46" x2="30.3" y2="547.46" stroke="#000" stroke-width="1.3" stroke-linecap="butt"/>
<text x="27.6" y="549.86" font-size="6.9" text-anchor="end" textLength="6.3" lengthAdjust="spacingAndGlyphs" fill="#222" stroke="#222" stroke-width="0.2" >40</text>
<line x1="28.8" y1="551.215" x2="30.3" y2="551.215" stroke="#000" stroke-width="1.0" stroke-linecap="butt"/>
<line x1="28.8" y1="554.97" x2="30.3" y2="554.97" stroke="#000" stroke-width="1.0" stroke-linecap="butt"/>
<line x1="28.8" y1="558.725" x2="30.3" y2="558.725" stroke="#000" stroke-width="1.0" stroke-linecap="butt"/>
<line x1="27.900000000000002" y1="562.48" x2="30.3" y2="562.48" stroke="#000" stroke-width="1.3" stroke-linecap="butt"/>
<text x="27.6" y="564.88" font-size="6.9" text-anchor="end" textLength="6.3" lengthAdjust="spacingAndGlyphs" fill="#222" stroke="#222" stroke-width="0.2" >20</text>
<line x1="28.8" y1="566.235" x2="30.3" y2="566.235" stroke="#000" stroke-width="1.0" stroke-linecap="butt"/>
<line x1="28.8" y1="569.99" x2="30.3" y2="569.99" stroke="#000" stroke-width="1.0" stroke-linecap="butt"/>
<line x1="28.8" y1="573.745" x2="30.3" y2="573.745" stroke="#000" stroke-width="1.0" stroke-linecap="butt"/>
<line x1="27.900000000000002" y1="577.5" x2="30.3" y2="577.5" stroke="#000" stroke-width="1.3" stroke-linecap="butt"/>
<text x="27.6" y="579.9" font-size="6.9" text-anchor="end" textLength="3.3" lengthAdjust="spacingAndGlyphs" fill="#222" stroke="#222" stroke-width="0.2" >0</text>
<line x1="31.900000000000002" y1="579.0" x2="31.900000000000002" y2="580.6" stroke="#000" stroke-width="1.3" stroke-linecap="butt"/>
<text x="32.2" y="586.5" font-size="6.8" text-anchor="middle" fill="#222" stroke="#222" stroke-width="0.2" >10<tspan font-size="4.4" dy="-2.7">0</tspan></text>
<line x1="37.77008491544763" y1="579.0" x2="37.77008491544763" y2="579.9" stroke="#000" stroke-width="0.8" stroke-linecap="butt"/>
<line x1="41.20386446703342" y1="579.0" x2="41.20386446703342" y2="579.9" stroke="#000" stroke-width="0.8" stroke-linecap="butt"/>
<line x1="43.64016983089527" y1="579.0" x2="43.64016983089527" y2="579.9" stroke="#000" stroke-width="0.8" stroke-linecap="butt"/>
<line x1="45.52991508455237" y1="579.0" x2="45.52991508455237" y2="579.9" stroke="#000" stroke-width="0.8" stroke-linecap="butt"/>
<line x1="47.073949382481054" y1="579.0" x2="47.073949382481054" y2="579.9" stroke="#000" stroke-width="0.8" stroke-linecap="butt"/>
<line x1="48.379411780278005" y1="579.0" x2="48.379411780278005" y2="579.9" stroke="#000" stroke-width="0.8" stroke-linecap="butt"/>
<line x1="49.5102547463429" y1="579.0" x2="49.5102547463429" y2="579.9" stroke="#000" stroke-width="0.8" stroke-linecap="butt"/>
<line x1="50.50772893406683" y1="579.0" x2="50.50772893406683" y2="579.9" stroke="#000" stroke-width="0.8" stroke-linecap="butt"/>
<line x1="51.35" y1="579.0" x2="51.35" y2="580.6" stroke="#000" stroke-width="1.3" stroke-linecap="butt"/>
<text x="51.65" y="586.5" font-size="6.8" text-anchor="middle" fill="#222" stroke="#222" stroke-width="0.2" >10<tspan font-size="4.4" dy="-2.7">1</tspan></text>
<line x1="57.220084915447636" y1="579.0" x2="57.220084915447636" y2="579.9" stroke="#000" stroke-width="0.8" stroke-linecap="butt"/>
<line x1="60.653864467033415" y1="579.0" x2="60.653864467033415" y2="579.9" stroke="#000" stroke-width="0.8" stroke-linecap="butt"/>
<line x1="63.09016983089527" y1="579.0" x2="63.09016983089527" y2="579.9" stroke="#000" stroke-width="0.8" stroke-linecap="butt"/>
<line x1="64.97991508455237" y1="579.0" x2="64.97991508455237" y2="579.9" stroke="#000" stroke-width="0.8" stroke-linecap="butt"/>
<line x1="66.52394938248105" y1="579.0" x2="66.52394938248105" y2="579.9" stroke="#000" stroke-width="0.8" stroke-linecap="butt"/>
<line x1="67.82941178027801" y1="579.0" x2="67.82941178027801" y2="579.9" stroke="#000" stroke-width="0.8" stroke-linecap="butt"/>
<line x1="68.9602547463429" y1="579.0" x2="68.9602547463429" y2="579.9" stroke="#000" stroke-width="0.8" stroke-linecap="butt"/>
<line x1="69.95772893406684" y1="579.0" x2="69.95772893406684" y2="579.9" stroke="#000" stroke-width="0.8" stroke-linecap="butt"/>
<line x1="70.8" y1="579.0" x2="70.8" y2="580.6" stroke="#000" stroke-width="1.3" stroke-linecap="butt"/>
<text x="71.1" y="586.5" font-size="6.8" text-anchor="middle" fill="#222" stroke="#222" stroke-width="0.2" >10<tspan font-size="4.4" dy="-2.7">2</tspan></text>
<line x1="76.67008491544763" y1="579.0" x2="76.67008491544763" y2="579.9" stroke="#000" stroke-width="0.8" stroke-linecap="butt"/>
<line x1="80.10386446703342" y1="579.0" x2="80.10386446703342" y2="579.9" stroke="#000" stroke-width="0.8" stroke-linecap="butt"/>
<line x1="82.54016983089527" y1="579.0" x2="82.54016983089527" y2="579.9" stroke="#000" stroke-width="0.8" stroke-linecap="butt"/>
<line x1="84.42991508455236" y1="579.0" x2="84.42991508455236" y2="579.9" stroke="#000" stroke-width="0.8" stroke-linecap="butt"/>
<line x1="85.97394938248105" y1="579.0" x2="85.97394938248105" y2="579.9" stroke="#000" stroke-width="0.8" stroke-linecap="butt"/>
<line x1="87.279411780278" y1="579.0" x2="87.279411780278" y2="579.9" stroke="#000" stroke-width="0.8" stroke-linecap="butt"/>
<line x1="88.4102547463429" y1="579.0" x2="88.4102547463429" y2="579.9" stroke="#000" stroke-width="0.8" stroke-linecap="butt"/>
<line x1="89.40772893406682" y1="579.0" x2="89.40772893406682" y2="579.9" stroke="#000" stroke-width="0.8" stroke-linecap="butt"/>
<line x1="90.25" y1="579.0" x2="90.25" y2="580.6" stroke="#000" stroke-width="1.3" stroke-linecap="butt"/>
<text x="90.55" y="586.5" font-size="6.8" text-anchor="middle" fill="#222" stroke="#222" stroke-width="0.2" >10<tspan font-size="4.4" dy="-2.7">3</tspan></text>
<line x1="96.12008491544763" y1="579.0" x2="96.12008491544763" y2="579.9" stroke="#000" stroke-width="0.8" stroke-linecap="butt"/>
<line x1="99.55386446703342" y1="579.0" x2="99.55386446703342" y2="579.9" stroke="#000" stroke-width="0.8" stroke-linecap="butt"/>
<line x1="101.99016983089527" y1="579.0" x2="101.99016983089527" y2="579.9" stroke="#000" stroke-width="0.8" stroke-linecap="butt"/>
<line x1="103.87991508455237" y1="579.0" x2="103.87991508455237" y2="579.9" stroke="#000" stroke-width="0.8" stroke-linecap="butt"/>
<line x1="105.42394938248106" y1="579.0" x2="105.42394938248106" y2="579.9" stroke="#000" stroke-width="0.8" stroke-linecap="butt"/>
<line x1="106.72941178027801" y1="579.0" x2="106.72941178027801" y2="579.9" stroke="#000" stroke-width="0.8" stroke-linecap="butt"/>
<line x1="107.8602547463429" y1="579.0" x2="107.8602547463429" y2="579.9" stroke="#000" stroke-width="0.8" stroke-linecap="butt"/>
<line x1="108.85772893406684" y1="579.0" x2="108.85772893406684" y2="579.9" stroke="#000" stroke-width="0.8" stroke-linecap="butt"/>
<line x1="109.7" y1="579.0" x2="109.7" y2="580.6" stroke="#000" stroke-width="1.3" stroke-linecap="butt"/>
<text x="110.0" y="586.5" font-size="6.8" text-anchor="middle" fill="#222" stroke="#222" stroke-width="0.2" >10<tspan font-size="4.4" dy="-2.7">4</tspan></text>
<text x="19.4" y="568.5" font-size="14" textLength="57.5" lengthAdjust="spacingAndGlyphs" transform="rotate(-90 19.4 568.5)" fill="#111" stroke="#111" stroke-width="0.4" >% of Max</text>
<text x="17.5" y="599.6" font-size="13.5" textLength="98.5" lengthAdjust="spacingAndGlyphs" fill="#111" stroke="#111" stroke-width="0.4" >p-p38 Alexa 488</text>
<text x="308.7" y="493.7" font-size="17.3" font-style="italic" textLength="47.5" lengthAdjust="spacingAndGlyphs" fill="#111" stroke="#111" stroke-width="0.5" >E. coli</text>
<path d="M298.0,575.4 C298.7,573.0 300.9,568.3 302.3,560.7 C303.7,553.1 305.5,538.2 306.6,529.6 C307.8,521.0 308.5,513.4 309.2,508.8 C309.9,504.2 310.3,501.3 311.0,501.9 C311.7,502.5 312.8,506.2 313.5,512.3 C314.2,518.4 314.7,530.2 315.3,538.3 C315.9,546.4 316.3,554.7 317.0,560.7 C317.7,566.8 319.2,572.3 319.6,574.6 L319.6,577.5 L298,577.5 Z" fill="#7a7a7a"/>
<path d="M299.0,575.4 C299.7,573.0 301.6,568.3 303.0,560.7 C304.4,553.1 306.1,538.2 307.3,529.6 C308.5,521.0 309.2,513.4 310.0,509.0 C310.8,504.6 311.2,503.5 312.0,503.0 C312.8,502.5 314.0,506.2 315.0,506.0 C316.0,505.8 317.0,499.4 317.9,501.9 C318.8,504.4 319.8,513.5 320.5,521.0 C321.2,528.5 321.6,538.8 322.2,546.9 C322.8,555.0 323.7,564.5 324.4,569.4 C325.1,574.3 326.1,575.1 326.5,576.3" fill="none" stroke="#8e8e8e" stroke-width="2.7" stroke-linejoin="round"/>
<path d="M298.0,575.4 C298.7,573.0 300.9,568.3 302.3,560.7 C303.7,553.1 305.5,538.2 306.6,529.6 C307.8,521.0 308.5,513.4 309.2,508.8 C309.9,504.2 310.3,501.3 311.0,501.9 C311.7,502.5 312.8,506.2 313.5,512.3 C314.2,518.4 314.7,530.2 315.3,538.3 C315.9,546.4 316.3,554.7 317.0,560.7 C317.7,566.8 319.2,572.3 319.6,574.6" fill="none" stroke="#fff" stroke-width="2.2" stroke-linejoin="round"/>
<path d="M298.0,575.4 C298.7,573.0 300.9,568.3 302.3,560.7 C303.7,553.1 305.5,538.2 306.6,529.6 C307.8,521.0 308.5,513.4 309.2,508.8 C309.9,504.2 310.3,501.3 311.0,501.9 C311.7,502.5 312.8,506.2 313.5,512.3 C314.2,518.4 314.7,530.2 315.3,538.3 C315.9,546.4 316.3,554.7 317.0,560.7 C317.7,566.8 319.2,572.3 319.6,574.6" fill="none" stroke="#000" stroke-width="2.3" stroke-dasharray="10.5 2.6" stroke-linejoin="round"/>
<path d="M292.8,576.3 C293.8,576.1 297.2,576.8 298.8,575.4 C300.4,574.0 301.1,572.5 302.3,567.7 C303.5,563.0 304.7,554.7 305.8,546.9 C306.9,539.1 308.1,527.6 309.2,521.0 C310.3,514.4 311.4,510.0 312.7,507.0 C314.0,504.0 315.7,503.1 317.0,502.8 C318.3,502.5 319.6,503.8 320.5,505.4 C321.4,507.0 321.6,508.3 322.2,512.3 C322.8,516.3 323.7,522.7 324.4,529.6 C325.1,536.5 325.9,546.9 326.5,553.8 C327.1,560.7 327.6,567.4 328.3,571.1 C329.0,574.9 330.4,575.4 330.8,576.3" fill="none" stroke="#000" stroke-width="2.7" stroke-linejoin="round"/>
<line x1="337.5" y1="519.5" x2="324.8" y2="532.2" stroke="#000" stroke-width="2.3" stroke-linecap="butt"/>
<line x1="343" y1="548" x2="325.7" y2="563.3" stroke="#000" stroke-width="2.3" stroke-linecap="butt"/>
<text x="336" y="518" font-size="13.5" textLength="19.5" lengthAdjust="spacingAndGlyphs" fill="#111" stroke="#111" stroke-width="0.4" >WT</text>
<text x="340.4" y="545.5" font-size="13.5" font-style="italic" fill="#111" stroke="#111" stroke-width="0.4" >syk<tspan font-size="7.5" dy="-4.5">-/-</tspan></text>
<rect x="291.65" y="499.05" width="77.80000000000001" height="78.69999999999999" fill="none" stroke="#000" stroke-width="2.5" />
<line x1="290.4" y1="577.9" x2="370.7" y2="577.9" stroke="#1a1a1a" stroke-width="3.0" stroke-linecap="butt"/>
<line x1="288.0" y1="502.40000000000003" x2="290.4" y2="502.40000000000003" stroke="#000" stroke-width="1.3" stroke-linecap="butt"/>
<text x="287.7" y="504.8" font-size="6.9" text-anchor="end" textLength="9.3" lengthAdjust="spacingAndGlyphs" fill="#222" stroke="#222" stroke-width="0.2" >100</text>
<line x1="288.9" y1="506.15500000000003" x2="290.4" y2="506.15500000000003" stroke="#000" stroke-width="1.0" stroke-linecap="butt"/>
<line x1="288.9" y1="509.91" x2="290.4" y2="509.91" stroke="#000" stroke-width="1.0" stroke-linecap="butt"/>
<line x1="288.9" y1="513.6650000000001" x2="290.4" y2="513.6650000000001" stroke="#000" stroke-width="1.0" stroke-linecap="butt"/>
<line x1="288.0" y1="517.4200000000001" x2="290.4" y2="517.4200000000001" stroke="#000" stroke-width="1.3" stroke-linecap="butt"/>
<text x="287.7" y="519.82" font-size="6.9" text-anchor="end" textLength="6.3" lengthAdjust="spacingAndGlyphs" fill="#222" stroke="#222" stroke-width="0.2" >80</text>
<line x1="288.9" y1="521.1750000000001" x2="290.4" y2="521.1750000000001" stroke="#000" stroke-width="1.0" stroke-linecap="butt"/>
<line x1="288.9" y1="524.9300000000001" x2="290.4" y2="524.9300000000001" stroke="#000" stroke-width="1.0" stroke-linecap="butt"/>
<line x1="288.9" y1="528.6850000000001" x2="290.4" y2="528.6850000000001" stroke="#000" stroke-width="1.0" stroke-linecap="butt"/>
<line x1="288.0" y1="532.44" x2="290.4" y2="532.44" stroke="#000" stroke-width="1.3" stroke-linecap="butt"/>
<text x="287.7" y="534.84" font-size="6.9" text-anchor="end" textLength="6.3" lengthAdjust="spacingAndGlyphs" fill="#222" stroke="#222" stroke-width="0.2" >60</text>
<line x1="288.9" y1="536.195" x2="290.4" y2="536.195" stroke="#000" stroke-width="1.0" stroke-linecap="butt"/>
<line x1="288.9" y1="539.95" x2="290.4" y2="539.95" stroke="#000" stroke-width="1.0" stroke-linecap="butt"/>
<line x1="288.9" y1="543.705" x2="290.4" y2="543.705" stroke="#000" stroke-width="1.0" stroke-linecap="butt"/>
<line x1="288.0" y1="547.46" x2="290.4" y2="547.46" stroke="#000" stroke-width="1.3" stroke-linecap="butt"/>
<text x="287.7" y="549.86" font-size="6.9" text-anchor="end" textLength="6.3" lengthAdjust="spacingAndGlyphs" fill="#222" stroke="#222" stroke-width="0.2" >40</text>
<line x1="288.9" y1="551.215" x2="290.4" y2="551.215" stroke="#000" stroke-width="1.0" stroke-linecap="butt"/>
<line x1="288.9" y1="554.97" x2="290.4" y2="554.97" stroke="#000" stroke-width="1.0" stroke-linecap="butt"/>
<line x1="288.9" y1="558.725" x2="290.4" y2="558.725" stroke="#000" stroke-width="1.0" stroke-linecap="butt"/>
<line x1="288.0" y1="562.48" x2="290.4" y2="562.48" stroke="#000" stroke-width="1.3" stroke-linecap="butt"/>
<text x="287.7" y="564.88" font-size="6.9" text-anchor="end" textLength="6.3" lengthAdjust="spacingAndGlyphs" fill="#222" stroke="#222" stroke-width="0.2" >20</text>
<line x1="288.9" y1="566.235" x2="290.4" y2="566.235" stroke="#000" stroke-width="1.0" stroke-linecap="butt"/>
<line x1="288.9" y1="569.99" x2="290.4" y2="569.99" stroke="#000" stroke-width="1.0" stroke-linecap="butt"/>
<line x1="288.9" y1="573.745" x2="290.4" y2="573.745" stroke="#000" stroke-width="1.0" stroke-linecap="butt"/>
<line x1="288.0" y1="577.5" x2="290.4" y2="577.5" stroke="#000" stroke-width="1.3" stroke-linecap="butt"/>
<text x="287.7" y="579.9" font-size="6.9" text-anchor="end" textLength="3.3" lengthAdjust="spacingAndGlyphs" fill="#222" stroke="#222" stroke-width="0.2" >0</text>
<line x1="292.0" y1="579.0" x2="292.0" y2="580.6" stroke="#000" stroke-width="1.3" stroke-linecap="butt"/>
<text x="292.3" y="586.5" font-size="6.8" text-anchor="middle" fill="#222" stroke="#222" stroke-width="0.2" >10<tspan font-size="4.4" dy="-2.7">0</tspan></text>
<line x1="297.87008491544765" y1="579.0" x2="297.87008491544765" y2="579.9" stroke="#000" stroke-width="0.8" stroke-linecap="butt"/>
<line x1="301.3038644670334" y1="579.0" x2="301.3038644670334" y2="579.9" stroke="#000" stroke-width="0.8" stroke-linecap="butt"/>
<line x1="303.74016983089524" y1="579.0" x2="303.74016983089524" y2="579.9" stroke="#000" stroke-width="0.8" stroke-linecap="butt"/>
<line x1="305.62991508455235" y1="579.0" x2="305.62991508455235" y2="579.9" stroke="#000" stroke-width="0.8" stroke-linecap="butt"/>
<line x1="307.17394938248106" y1="579.0" x2="307.17394938248106" y2="579.9" stroke="#000" stroke-width="0.8" stroke-linecap="butt"/>
<line x1="308.479411780278" y1="579.0" x2="308.479411780278" y2="579.9" stroke="#000" stroke-width="0.8" stroke-linecap="butt"/>
<line x1="309.6102547463429" y1="579.0" x2="309.6102547463429" y2="579.9" stroke="#000" stroke-width="0.8" stroke-linecap="butt"/>
<line x1="310.6077289340668" y1="579.0" x2="310.6077289340668" y2="579.9" stroke="#000" stroke-width="0.8" stroke-linecap="butt"/>
<line x1="311.45" y1="579.0" x2="311.45" y2="580.6" stroke="#000" stroke-width="1.3" stroke-linecap="butt"/>
<text x="311.75" y="586.5" font-size="6.8" text-anchor="middle" fill="#222" stroke="#222" stroke-width="0.2" >10<tspan font-size="4.4" dy="-2.7">1</tspan></text>
<line x1="317.32008491544764" y1="579.0" x2="317.32008491544764" y2="579.9" stroke="#000" stroke-width="0.8" stroke-linecap="butt"/>
<line x1="320.7538644670334" y1="579.0" x2="320.7538644670334" y2="579.9" stroke="#000" stroke-width="0.8" stroke-linecap="butt"/>
<line x1="323.19016983089523" y1="579.0" x2="323.19016983089523" y2="579.9" stroke="#000" stroke-width="0.8" stroke-linecap="butt"/>
<line x1="325.07991508455234" y1="579.0" x2="325.07991508455234" y2="579.9" stroke="#000" stroke-width="0.8" stroke-linecap="butt"/>
<line x1="326.62394938248104" y1="579.0" x2="326.62394938248104" y2="579.9" stroke="#000" stroke-width="0.8" stroke-linecap="butt"/>
<line x1="327.929411780278" y1="579.0" x2="327.929411780278" y2="579.9" stroke="#000" stroke-width="0.8" stroke-linecap="butt"/>
<line x1="329.0602547463429" y1="579.0" x2="329.0602547463429" y2="579.9" stroke="#000" stroke-width="0.8" stroke-linecap="butt"/>
<line x1="330.0577289340668" y1="579.0" x2="330.0577289340668" y2="579.9" stroke="#000" stroke-width="0.8" stroke-linecap="butt"/>
<line x1="330.9" y1="579.0" x2="330.9" y2="580.6" stroke="#000" stroke-width="1.3" stroke-linecap="butt"/>
<text x="331.2" y="586.5" font-size="6.8" text-anchor="middle" fill="#222" stroke="#222" stroke-width="0.2" >10<tspan font-size="4.4" dy="-2.7">2</tspan></text>
<line x1="336.7700849154476" y1="579.0" x2="336.7700849154476" y2="579.9" stroke="#000" stroke-width="0.8" stroke-linecap="butt"/>
<line x1="340.2038644670334" y1="579.0" x2="340.2038644670334" y2="579.9" stroke="#000" stroke-width="0.8" stroke-linecap="butt"/>
<line x1="342.6401698308952" y1="579.0" x2="342.6401698308952" y2="579.9" stroke="#000" stroke-width="0.8" stroke-linecap="butt"/>
<line x1="344.52991508455233" y1="579.0" x2="344.52991508455233" y2="579.9" stroke="#000" stroke-width="0.8" stroke-linecap="butt"/>
<line x1="346.07394938248103" y1="579.0" x2="346.07394938248103" y2="579.9" stroke="#000" stroke-width="0.8" stroke-linecap="butt"/>
<line x1="347.37941178027796" y1="579.0" x2="347.37941178027796" y2="579.9" stroke="#000" stroke-width="0.8" stroke-linecap="butt"/>
<line x1="348.51025474634287" y1="579.0" x2="348.51025474634287" y2="579.9" stroke="#000" stroke-width="0.8" stroke-linecap="butt"/>
<line x1="349.5077289340668" y1="579.0" x2="349.5077289340668" y2="579.9" stroke="#000" stroke-width="0.8" stroke-linecap="butt"/>
<line x1="350.35" y1="579.0" x2="350.35" y2="580.6" stroke="#000" stroke-width="1.3" stroke-linecap="butt"/>
<text x="350.65000000000003" y="586.5" font-size="6.8" text-anchor="middle" fill="#222" stroke="#222" stroke-width="0.2" >10<tspan font-size="4.4" dy="-2.7">3</tspan></text>
<line x1="356.22008491544767" y1="579.0" x2="356.22008491544767" y2="579.9" stroke="#000" stroke-width="0.8" stroke-linecap="butt"/>
<line x1="359.65386446703343" y1="579.0" x2="359.65386446703343" y2="579.9" stroke="#000" stroke-width="0.8" stroke-linecap="butt"/>
<line x1="362.09016983089526" y1="579.0" x2="362.09016983089526" y2="579.9" stroke="#000" stroke-width="0.8" stroke-linecap="butt"/>
<line x1="363.9799150845524" y1="579.0" x2="363.9799150845524" y2="579.9" stroke="#000" stroke-width="0.8" stroke-linecap="butt"/>
<line x1="365.5239493824811" y1="579.0" x2="365.5239493824811" y2="579.9" stroke="#000" stroke-width="0.8" stroke-linecap="butt"/>
<line x1="366.829411780278" y1="579.0" x2="366.829411780278" y2="579.9" stroke="#000" stroke-width="0.8" stroke-linecap="butt"/>
<line x1="367.9602547463429" y1="579.0" x2="367.9602547463429" y2="579.9" stroke="#000" stroke-width="0.8" stroke-linecap="butt"/>
<line x1="368.95772893406684" y1="579.0" x2="368.95772893406684" y2="579.9" stroke="#000" stroke-width="0.8" stroke-linecap="butt"/>
<line x1="369.8" y1="579.0" x2="369.8" y2="580.6" stroke="#000" stroke-width="1.3" stroke-linecap="butt"/>
<text x="370.1" y="586.5" font-size="6.8" text-anchor="middle" fill="#222" stroke="#222" stroke-width="0.2" >10<tspan font-size="4.4" dy="-2.7">4</tspan></text>
<text x="279.5" y="568.5" font-size="14" textLength="57.5" lengthAdjust="spacingAndGlyphs" transform="rotate(-90 279.5 568.5)" fill="#111" stroke="#111" stroke-width="0.4" >% of Max</text>
<text x="285" y="599.6" font-size="13.5" textLength="98.5" lengthAdjust="spacingAndGlyphs" fill="#111" stroke="#111" stroke-width="0.4" >p-p38 Alexa 488</text>
<polyline points="144.00,402.21 147.32,400.59 160.60,394.20 177.20,396.80 193.80,394.95 243.60,401.24" fill="none" stroke="#111" stroke-width="1.05"/>
<polyline points="144.00,402.75 147.32,401.67 160.60,369.29 177.20,356.29 193.80,364.52 243.60,398.20" fill="none" stroke="#111" stroke-width="1.05"/>
<path d="M144.00,400.49 L146.80,403.29 L144.00,406.09 L141.20,403.29 Z" fill="#fff" stroke="#111" stroke-width="1.1"/>
<path d="M144.00,399.02 L146.90,404.65 L141.10,404.65 Z" fill="#000"/>
<path d="M147.32,397.40 L150.22,403.02 L144.42,403.02 Z" fill="#000"/>
<path d="M160.60,391.01 L163.50,396.63 L157.70,396.63 Z" fill="#000"/>
<path d="M177.20,393.61 L180.10,399.23 L174.30,399.23 Z" fill="#000"/>
<path d="M193.80,391.76 L196.70,397.39 L190.90,397.39 Z" fill="#000"/>
<path d="M243.60,398.05 L246.50,403.67 L240.70,403.67 Z" fill="#000"/>
<rect x="141.35" y="400.1" width="5.3" height="5.3" fill="#fff" stroke="#111" stroke-width="1.2" />
<rect x="144.67" y="399.02" width="5.3" height="5.3" fill="#fff" stroke="#111" stroke-width="1.2" />
<rect x="157.95" y="366.64" width="5.3" height="5.3" fill="#fff" stroke="#111" stroke-width="1.2" />
<rect x="174.55" y="353.64" width="5.3" height="5.3" fill="#fff" stroke="#111" stroke-width="1.2" />
<rect x="191.15" y="361.87" width="5.3" height="5.3" fill="#fff" stroke="#111" stroke-width="1.2" />
<rect x="240.95" y="395.55" width="5.3" height="5.3" fill="#fff" stroke="#111" stroke-width="1.2" />
<path d="M177.20,398.44 L180.00,401.24 L177.20,404.04 L174.40,401.24 Z" fill="#fff" stroke="#111" stroke-width="1.1"/>
<line x1="143" y1="343.66999999999996" x2="143" y2="409.85" stroke="#111" stroke-width="1.3" stroke-linecap="butt"/>
<line x1="142.4" y1="409.25" x2="244.5" y2="409.25" stroke="#111" stroke-width="1.3" stroke-linecap="butt"/>
<line x1="139.8" y1="409.25" x2="143" y2="409.25" stroke="#111" stroke-width="1.1" stroke-linecap="butt"/>
<text x="139.5" y="412.25" font-size="8.4" text-anchor="end" fill="#111" stroke="#111" stroke-width="0.2" >0</text>
<line x1="139.8" y1="398.42" x2="143" y2="398.42" stroke="#111" stroke-width="1.1" stroke-linecap="butt"/>
<text x="139.5" y="401.42" font-size="8.4" text-anchor="end" textLength="8.3" lengthAdjust="spacingAndGlyphs" fill="#111" stroke="#111" stroke-width="0.2" >10</text>
<line x1="139.8" y1="387.59" x2="143" y2="387.59" stroke="#111" stroke-width="1.1" stroke-linecap="butt"/>
<text x="139.5" y="390.59" font-size="8.4" text-anchor="end" textLength="8.3" lengthAdjust="spacingAndGlyphs" fill="#111" stroke="#111" stroke-width="0.2" >20</text>
<line x1="139.8" y1="376.76" x2="143" y2="376.76" stroke="#111" stroke-width="1.1" stroke-linecap="butt"/>
<text x="139.5" y="379.76" font-size="8.4" text-anchor="end" textLength="8.3" lengthAdjust="spacingAndGlyphs" fill="#111" stroke="#111" stroke-width="0.2" >30</text>
<line x1="139.8" y1="365.93" x2="143" y2="365.93" stroke="#111" stroke-width="1.1" stroke-linecap="butt"/>
<text x="139.5" y="368.93" font-size="8.4" text-anchor="end" textLength="8.3" lengthAdjust="spacingAndGlyphs" fill="#111" stroke="#111" stroke-width="0.2" >40</text>
<line x1="139.8" y1="355.1" x2="143" y2="355.1" stroke="#111" stroke-width="1.1" stroke-linecap="butt"/>
<text x="139.5" y="358.1" font-size="8.4" text-anchor="end" textLength="8.3" lengthAdjust="spacingAndGlyphs" fill="#111" stroke="#111" stroke-width="0.2" >50</text>
<line x1="139.8" y1="344.27" x2="143" y2="344.27" stroke="#111" stroke-width="1.1" stroke-linecap="butt"/>
<text x="139.5" y="347.27" font-size="8.4" text-anchor="end" textLength="8.3" lengthAdjust="spacingAndGlyphs" fill="#111" stroke="#111" stroke-width="0.2" >60</text>
<line x1="144.0" y1="409.25" x2="144.0" y2="412.45" stroke="#111" stroke-width="1.1" stroke-linecap="butt"/>
<text x="144.0" y="419.45" font-size="8.4" text-anchor="middle" fill="#111" stroke="#111" stroke-width="0.2" >0</text>
<line x1="160.6" y1="409.25" x2="160.6" y2="412.45" stroke="#111" stroke-width="1.1" stroke-linecap="butt"/>
<text x="160.6" y="419.45" font-size="8.4" text-anchor="middle" fill="#111" stroke="#111" stroke-width="0.2" >5</text>
<line x1="177.2" y1="409.25" x2="177.2" y2="412.45" stroke="#111" stroke-width="1.1" stroke-linecap="butt"/>
<text x="177.2" y="419.45" font-size="8.4" text-anchor="middle" textLength="8.3" lengthAdjust="spacingAndGlyphs" fill="#111" stroke="#111" stroke-width="0.2" >10</text>
<line x1="193.8" y1="409.25" x2="193.8" y2="412.45" stroke="#111" stroke-width="1.1" stroke-linecap="butt"/>
<text x="193.8" y="419.45" font-size="8.4" text-anchor="middle" textLength="8.3" lengthAdjust="spacingAndGlyphs" fill="#111" stroke="#111" stroke-width="0.2" >15</text>
<line x1="210.39999999999998" y1="409.25" x2="210.39999999999998" y2="412.45" stroke="#111" stroke-width="1.1" stroke-linecap="butt"/>
<text x="210.39999999999998" y="419.45" font-size="8.4" text-anchor="middle" textLength="8.3" lengthAdjust="spacingAndGlyphs" fill="#111" stroke="#111" stroke-width="0.2" >20</text>
<line x1="227.0" y1="409.25" x2="227.0" y2="412.45" stroke="#111" stroke-width="1.1" stroke-linecap="butt"/>
<text x="227.0" y="419.45" font-size="8.4" text-anchor="middle" textLength="8.3" lengthAdjust="spacingAndGlyphs" fill="#111" stroke="#111" stroke-width="0.2" >25</text>
<line x1="243.6" y1="409.25" x2="243.6" y2="412.45" stroke="#111" stroke-width="1.1" stroke-linecap="butt"/>
<text x="243.6" y="419.45" font-size="8.4" text-anchor="middle" textLength="8.3" lengthAdjust="spacingAndGlyphs" fill="#111" stroke="#111" stroke-width="0.2" >30</text>
<text x="126.5" y="405.8" font-size="15" textLength="63" lengthAdjust="spacingAndGlyphs" transform="rotate(-90 126.5 405.8)" fill="#111" stroke="#111" stroke-width="0.4" >MFI pErk</text>
<text x="159" y="436.4" font-size="15.1" textLength="71.8" lengthAdjust="spacingAndGlyphs" fill="#111" stroke="#111" stroke-width="0.4" >Time (min)</text>
<text x="160.2" y="362" font-size="11.6" text-anchor="middle" textLength="7.5" lengthAdjust="spacingAndGlyphs" fill="#111" stroke="#111" stroke-width="0.7" >#</text>
<text x="176.9" y="349" font-size="11.6" text-anchor="middle" textLength="7.5" lengthAdjust="spacingAndGlyphs" fill="#111" stroke="#111" stroke-width="0.7" >#</text>
<text x="193.6" y="358.3" font-size="11.6" text-anchor="middle" textLength="7.5" lengthAdjust="spacingAndGlyphs" fill="#111" stroke="#111" stroke-width="0.7" >#</text>
<line x1="206.79999999999998" y1="325.2" x2="218.6" y2="325.2" stroke="#111" stroke-width="1.2" stroke-linecap="butt"/>
<rect x="210.5" y="323.0" width="4.4" height="4.4" fill="#fff" stroke="#111" stroke-width="1.2" />
<text x="222.4" y="330.3" font-size="13.8" textLength="21" lengthAdjust="spacingAndGlyphs" fill="#111" stroke="#111" stroke-width="0.4" >WT</text>
<line x1="206.79999999999998" y1="339.5" x2="218.6" y2="339.5" stroke="#111" stroke-width="1.2" stroke-linecap="butt"/>
<path d="M212.70,334.46 L216.10,341.06 L209.30,341.06 Z" fill="#000"/>
<text x="222.6" y="342.8" font-size="13.3" font-style="italic" fill="#111" stroke="#111" stroke-width="0.4" >syk<tspan font-size="7.5" dy="-4.5">-/-</tspan></text>
<path d="M212.70,350.40 L216.70,354.40 L212.70,358.40 L208.70,354.40 Z" fill="#fff" stroke="#111" stroke-width="1.1"/>
<text x="222.6" y="359.9" font-size="13.6" font-style="italic" fill="#111" stroke="#111" stroke-width="0.4" >CD18<tspan font-size="7.5" dy="-4.5">-/-</tspan></text>
<polyline points="407.20,402.21 410.48,398.20 423.62,398.20 440.03,399.29 456.44,399.29 505.69,401.24" fill="none" stroke="#111" stroke-width="1.05"/>
<polyline points="407.20,402.75 410.48,400.59 423.62,389.54 440.03,386.29 456.44,382.50 505.69,399.50" fill="none" stroke="#111" stroke-width="1.05"/>
<path d="M407.20,400.49 L410.00,403.29 L407.20,406.09 L404.40,403.29 Z" fill="#fff" stroke="#111" stroke-width="1.1"/>
<path d="M407.20,399.02 L410.10,404.65 L404.30,404.65 Z" fill="#000"/>
<path d="M410.48,395.01 L413.38,400.64 L407.58,400.64 Z" fill="#000"/>
<path d="M423.62,395.01 L426.51,400.64 L420.72,400.64 Z" fill="#000"/>
<path d="M440.03,396.10 L442.93,401.72 L437.13,401.72 Z" fill="#000"/>
<path d="M456.44,396.10 L459.34,401.72 L453.55,401.72 Z" fill="#000"/>
<path d="M505.69,398.05 L508.59,403.67 L502.79,403.67 Z" fill="#000"/>
<rect x="404.55" y="400.1" width="5.3" height="5.3" fill="#fff" stroke="#111" stroke-width="1.2" />
<rect x="407.83" y="397.94" width="5.3" height="5.3" fill="#fff" stroke="#111" stroke-width="1.2" />
<rect x="420.97" y="386.89" width="5.3" height="5.3" fill="#fff" stroke="#111" stroke-width="1.2" />
<rect x="437.38" y="383.64" width="5.3" height="5.3" fill="#fff" stroke="#111" stroke-width="1.2" />
<rect x="453.8" y="379.85" width="5.3" height="5.3" fill="#fff" stroke="#111" stroke-width="1.2" />
<rect x="503.04" y="396.85" width="5.3" height="5.3" fill="#fff" stroke="#111" stroke-width="1.2" />
<path d="M456.44,399.74 L459.25,402.54 L456.44,405.34 L453.64,402.54 Z" fill="#fff" stroke="#111" stroke-width="1.1"/>
<line x1="406.7" y1="343.66999999999996" x2="406.7" y2="409.70000000000005" stroke="#111" stroke-width="1.3" stroke-linecap="butt"/>
<line x1="406.09999999999997" y1="409.1" x2="507" y2="409.1" stroke="#111" stroke-width="1.3" stroke-linecap="butt"/>
<line x1="403.5" y1="409.25" x2="406.7" y2="409.25" stroke="#111" stroke-width="1.1" stroke-linecap="butt"/>
<text x="403.2" y="412.25" font-size="8.4" text-anchor="end" fill="#111" stroke="#111" stroke-width="0.2" >0</text>
<line x1="403.5" y1="398.42" x2="406.7" y2="398.42" stroke="#111" stroke-width="1.1" stroke-linecap="butt"/>
<text x="403.2" y="401.42" font-size="8.4" text-anchor="end" textLength="8.3" lengthAdjust="spacingAndGlyphs" fill="#111" stroke="#111" stroke-width="0.2" >10</text>
<line x1="403.5" y1="387.59" x2="406.7" y2="387.59" stroke="#111" stroke-width="1.1" stroke-linecap="butt"/>
<text x="403.2" y="390.59" font-size="8.4" text-anchor="end" textLength="8.3" lengthAdjust="spacingAndGlyphs" fill="#111" stroke="#111" stroke-width="0.2" >20</text>
<line x1="403.5" y1="376.76" x2="406.7" y2="376.76" stroke="#111" stroke-width="1.1" stroke-linecap="butt"/>
<text x="403.2" y="379.76" font-size="8.4" text-anchor="end" textLength="8.3" lengthAdjust="spacingAndGlyphs" fill="#111" stroke="#111" stroke-width="0.2" >30</text>
<line x1="403.5" y1="365.93" x2="406.7" y2="365.93" stroke="#111" stroke-width="1.1" stroke-linecap="butt"/>
<text x="403.2" y="368.93" font-size="8.4" text-anchor="end" textLength="8.3" lengthAdjust="spacingAndGlyphs" fill="#111" stroke="#111" stroke-width="0.2" >40</text>
<line x1="403.5" y1="355.1" x2="406.7" y2="355.1" stroke="#111" stroke-width="1.1" stroke-linecap="butt"/>
<text x="403.2" y="358.1" font-size="8.4" text-anchor="end" textLength="8.3" lengthAdjust="spacingAndGlyphs" fill="#111" stroke="#111" stroke-width="0.2" >50</text>
<line x1="403.5" y1="344.27" x2="406.7" y2="344.27" stroke="#111" stroke-width="1.1" stroke-linecap="butt"/>
<text x="403.2" y="347.27" font-size="8.4" text-anchor="end" textLength="8.3" lengthAdjust="spacingAndGlyphs" fill="#111" stroke="#111" stroke-width="0.2" >60</text>
<line x1="407.2" y1="409.1" x2="407.2" y2="412.3" stroke="#111" stroke-width="1.1" stroke-linecap="butt"/>
<text x="407.2" y="419.3" font-size="8.4" text-anchor="middle" fill="#111" stroke="#111" stroke-width="0.2" >0</text>
<line x1="423.615" y1="409.1" x2="423.615" y2="412.3" stroke="#111" stroke-width="1.1" stroke-linecap="butt"/>
<text x="423.615" y="419.3" font-size="8.4" text-anchor="middle" fill="#111" stroke="#111" stroke-width="0.2" >5</text>
<line x1="440.03" y1="409.1" x2="440.03" y2="412.3" stroke="#111" stroke-width="1.1" stroke-linecap="butt"/>
<text x="440.03" y="419.3" font-size="8.4" text-anchor="middle" textLength="8.3" lengthAdjust="spacingAndGlyphs" fill="#111" stroke="#111" stroke-width="0.2" >10</text>
<line x1="456.445" y1="409.1" x2="456.445" y2="412.3" stroke="#111" stroke-width="1.1" stroke-linecap="butt"/>
<text x="456.445" y="419.3" font-size="8.4" text-anchor="middle" textLength="8.3" lengthAdjust="spacingAndGlyphs" fill="#111" stroke="#111" stroke-width="0.2" >15</text>
<line x1="472.86" y1="409.1" x2="472.86" y2="412.3" stroke="#111" stroke-width="1.1" stroke-linecap="butt"/>
<text x="472.86" y="419.3" font-size="8.4" text-anchor="middle" textLength="8.3" lengthAdjust="spacingAndGlyphs" fill="#111" stroke="#111" stroke-width="0.2" >20</text>
<line x1="489.275" y1="409.1" x2="489.275" y2="412.3" stroke="#111" stroke-width="1.1" stroke-linecap="butt"/>
<text x="489.275" y="419.3" font-size="8.4" text-anchor="middle" textLength="8.3" lengthAdjust="spacingAndGlyphs" fill="#111" stroke="#111" stroke-width="0.2" >25</text>
<line x1="505.69" y1="409.1" x2="505.69" y2="412.3" stroke="#111" stroke-width="1.1" stroke-linecap="butt"/>
<text x="505.69" y="419.3" font-size="8.4" text-anchor="middle" textLength="8.3" lengthAdjust="spacingAndGlyphs" fill="#111" stroke="#111" stroke-width="0.2" >30</text>
<text x="390.1" y="406.3" font-size="15" textLength="63" lengthAdjust="spacingAndGlyphs" transform="rotate(-90 390.1 406.3)" fill="#111" stroke="#111" stroke-width="0.4" >MFI pErk</text>
<text x="420.6" y="436.6" font-size="15.1" textLength="71.6" lengthAdjust="spacingAndGlyphs" fill="#111" stroke="#111" stroke-width="0.4" >Time (min)</text>
<text x="422.1" y="385.6" font-size="15" text-anchor="middle" fill="#111" stroke="#111" stroke-width="0.4" >**</text>
<text x="438.8" y="379.7" font-size="11.6" text-anchor="middle" textLength="7.5" lengthAdjust="spacingAndGlyphs" fill="#111" stroke="#111" stroke-width="0.7" >#</text>
<text x="457.5" y="375.9" font-size="11.6" text-anchor="middle" textLength="7.5" lengthAdjust="spacingAndGlyphs" fill="#111" stroke="#111" stroke-width="0.7" >#</text>
<line x1="460.90000000000003" y1="324.2" x2="472.7" y2="324.2" stroke="#111" stroke-width="1.2" stroke-linecap="butt"/>
<rect x="464.6" y="322.0" width="4.4" height="4.4" fill="#fff" stroke="#111" stroke-width="1.2" />
<text x="476.9" y="329.6" font-size="13.8" textLength="21" lengthAdjust="spacingAndGlyphs" fill="#111" stroke="#111" stroke-width="0.4" >WT</text>
<line x1="460.90000000000003" y1="339.8" x2="472.7" y2="339.8" stroke="#111" stroke-width="1.2" stroke-linecap="butt"/>
<path d="M466.80,334.76 L470.20,341.36 L463.40,341.36 Z" fill="#000"/>
<text x="477.1" y="342.6" font-size="13.3" font-style="italic" fill="#111" stroke="#111" stroke-width="0.4" >syk<tspan font-size="7.5" dy="-4.5">-/-</tspan></text>
<path d="M466.80,350.00 L470.80,354.00 L466.80,358.00 L462.80,354.00 Z" fill="#fff" stroke="#111" stroke-width="1.1"/>
<text x="477.1" y="359.5" font-size="13.6" font-style="italic" fill="#111" stroke="#111" stroke-width="0.4" >CD18<tspan font-size="7.5" dy="-4.5">-/-</tspan></text>
<polyline points="143.90,554.05 154.80,553.17 165.70,554.64 187.50,554.64 209.30,554.05 242.00,554.05" fill="none" stroke="#111" stroke-width="1.05"/>
<polyline points="143.90,552.28 154.80,550.81 165.70,552.28 176.60,546.40 187.50,544.35 209.30,546.70 242.00,550.81" fill="none" stroke="#111" stroke-width="1.05"/>
<line x1="176.60000000000002" y1="542.404" x2="176.60000000000002" y2="550.404" stroke="#111" stroke-width="0.9" stroke-linecap="butt"/>
<line x1="174.00000000000003" y1="542.404" x2="179.20000000000002" y2="542.404" stroke="#111" stroke-width="0.9" stroke-linecap="butt"/>
<line x1="174.00000000000003" y1="550.404" x2="179.20000000000002" y2="550.404" stroke="#111" stroke-width="0.9" stroke-linecap="butt"/>
<line x1="187.5" y1="540.146" x2="187.5" y2="548.546" stroke="#111" stroke-width="0.9" stroke-linecap="butt"/>
<line x1="184.9" y1="540.146" x2="190.1" y2="540.146" stroke="#111" stroke-width="0.9" stroke-linecap="butt"/>
<line x1="184.9" y1="548.546" x2="190.1" y2="548.546" stroke="#111" stroke-width="0.9" stroke-linecap="butt"/>
<path d="M143.90,551.25 L146.70,554.05 L143.90,556.85 L141.10,554.05 Z" fill="#fff" stroke="#111" stroke-width="1.1"/>
<path d="M143.90,550.86 L146.80,556.48 L141.00,556.48 Z" fill="#000"/>
<path d="M154.80,549.98 L157.70,555.60 L151.90,555.60 Z" fill="#000"/>
<path d="M165.70,551.45 L168.60,557.07 L162.80,557.07 Z" fill="#000"/>
<path d="M187.50,551.45 L190.40,557.07 L184.60,557.07 Z" fill="#000"/>
<path d="M209.30,550.86 L212.20,556.48 L206.40,556.48 Z" fill="#000"/>
<path d="M242.00,550.86 L244.90,556.48 L239.10,556.48 Z" fill="#000"/>
<rect x="141.25" y="549.63" width="5.3" height="5.3" fill="#fff" stroke="#111" stroke-width="1.2" />
<rect x="152.15" y="548.16" width="5.3" height="5.3" fill="#fff" stroke="#111" stroke-width="1.2" />
<rect x="163.05" y="549.63" width="5.3" height="5.3" fill="#fff" stroke="#111" stroke-width="1.2" />
<rect x="173.95" y="543.75" width="5.3" height="5.3" fill="#fff" stroke="#111" stroke-width="1.2" />
<rect x="184.85" y="541.7" width="5.3" height="5.3" fill="#fff" stroke="#111" stroke-width="1.2" />
<rect x="206.65" y="544.05" width="5.3" height="5.3" fill="#fff" stroke="#111" stroke-width="1.2" />
<rect x="239.35" y="548.16" width="5.3" height="5.3" fill="#fff" stroke="#111" stroke-width="1.2" />
<path d="M176.60,552.13 L179.40,554.93 L176.60,557.73 L173.80,554.93 Z" fill="#fff" stroke="#111" stroke-width="1.1"/>
<line x1="143" y1="505.82" x2="143" y2="571.8000000000001" stroke="#111" stroke-width="1.3" stroke-linecap="butt"/>
<line x1="142.4" y1="571.2" x2="243" y2="571.2" stroke="#111" stroke-width="1.3" stroke-linecap="butt"/>
<line x1="139.8" y1="565.22" x2="143" y2="565.22" stroke="#111" stroke-width="1.1" stroke-linecap="butt"/>
<text x="139.5" y="568.22" font-size="8.4" text-anchor="end" fill="#111" stroke="#111" stroke-width="0.2" >2</text>
<line x1="139.8" y1="553.46" x2="143" y2="553.46" stroke="#111" stroke-width="1.1" stroke-linecap="butt"/>
<text x="139.5" y="556.46" font-size="8.4" text-anchor="end" fill="#111" stroke="#111" stroke-width="0.2" >6</text>
<line x1="139.8" y1="541.7" x2="143" y2="541.7" stroke="#111" stroke-width="1.1" stroke-linecap="butt"/>
<text x="139.5" y="544.7" font-size="8.4" text-anchor="end" textLength="8.3" lengthAdjust="spacingAndGlyphs" fill="#111" stroke="#111" stroke-width="0.2" >10</text>
<line x1="139.8" y1="529.94" x2="143" y2="529.94" stroke="#111" stroke-width="1.1" stroke-linecap="butt"/>
<text x="139.5" y="532.94" font-size="8.4" text-anchor="end" textLength="8.3" lengthAdjust="spacingAndGlyphs" fill="#111" stroke="#111" stroke-width="0.2" >14</text>
<line x1="139.8" y1="518.1800000000001" x2="143" y2="518.1800000000001" stroke="#111" stroke-width="1.1" stroke-linecap="butt"/>
<text x="139.5" y="521.1800000000001" font-size="8.4" text-anchor="end" textLength="8.3" lengthAdjust="spacingAndGlyphs" fill="#111" stroke="#111" stroke-width="0.2" >18</text>
<line x1="139.8" y1="506.42" x2="143" y2="506.42" stroke="#111" stroke-width="1.1" stroke-linecap="butt"/>
<text x="139.5" y="509.42" font-size="8.4" text-anchor="end" textLength="8.3" lengthAdjust="spacingAndGlyphs" fill="#111" stroke="#111" stroke-width="0.2" >22</text>
<line x1="154.8" y1="571.2" x2="154.8" y2="574.4000000000001" stroke="#111" stroke-width="1.1" stroke-linecap="butt"/>
<text x="154.8" y="581.4000000000001" font-size="8.4" text-anchor="middle" fill="#111" stroke="#111" stroke-width="0.2" >5</text>
<line x1="176.60000000000002" y1="571.2" x2="176.60000000000002" y2="574.4000000000001" stroke="#111" stroke-width="1.1" stroke-linecap="butt"/>
<text x="176.60000000000002" y="581.4000000000001" font-size="8.4" text-anchor="middle" textLength="8.3" lengthAdjust="spacingAndGlyphs" fill="#111" stroke="#111" stroke-width="0.2" >15</text>
<line x1="198.4" y1="571.2" x2="198.4" y2="574.4000000000001" stroke="#111" stroke-width="1.1" stroke-linecap="butt"/>
<text x="198.4" y="581.4000000000001" font-size="8.4" text-anchor="middle" textLength="8.3" lengthAdjust="spacingAndGlyphs" fill="#111" stroke="#111" stroke-width="0.2" >25</text>
<line x1="220.20000000000002" y1="571.2" x2="220.20000000000002" y2="574.4000000000001" stroke="#111" stroke-width="1.1" stroke-linecap="butt"/>
<text x="220.20000000000002" y="581.4000000000001" font-size="8.4" text-anchor="middle" textLength="8.3" lengthAdjust="spacingAndGlyphs" fill="#111" stroke="#111" stroke-width="0.2" >35</text>
<line x1="242.0" y1="571.2" x2="242.0" y2="574.4000000000001" stroke="#111" stroke-width="1.1" stroke-linecap="butt"/>
<text x="242.0" y="581.4000000000001" font-size="8.4" text-anchor="middle" textLength="8.3" lengthAdjust="spacingAndGlyphs" fill="#111" stroke="#111" stroke-width="0.2" >45</text>
<text x="126.6" y="573" font-size="15" textLength="71" lengthAdjust="spacingAndGlyphs" transform="rotate(-90 126.6 573)" fill="#111" stroke="#111" stroke-width="0.4" >MFI p-p38</text>
<text x="158.6" y="598.4" font-size="15.1" textLength="71.8" lengthAdjust="spacingAndGlyphs" fill="#111" stroke="#111" stroke-width="0.4" >Time (min)</text>
<text x="176.4" y="537.2" font-size="11.6" text-anchor="middle" textLength="7.5" lengthAdjust="spacingAndGlyphs" fill="#111" stroke="#111" stroke-width="0.7" >#</text>
<text x="187.6" y="535" font-size="11.6" text-anchor="middle" textLength="7.5" lengthAdjust="spacingAndGlyphs" fill="#111" stroke="#111" stroke-width="0.7" >#</text>
<text x="209.2" y="544" font-size="15" text-anchor="middle" fill="#111" stroke="#111" stroke-width="0.4" >**</text>
<line x1="206.7" y1="475.2" x2="218.5" y2="475.2" stroke="#111" stroke-width="1.2" stroke-linecap="butt"/>
<rect x="210.4" y="473.0" width="4.4" height="4.4" fill="#fff" stroke="#111" stroke-width="1.2" />
<text x="224.0" y="480.8" font-size="13.8" textLength="21" lengthAdjust="spacingAndGlyphs" fill="#111" stroke="#111" stroke-width="0.4" >WT</text>
<line x1="206.7" y1="491.3" x2="218.5" y2="491.3" stroke="#111" stroke-width="1.2" stroke-linecap="butt"/>
<path d="M212.60,486.26 L216.00,492.86 L209.20,492.86 Z" fill="#000"/>
<text x="224.2" y="494.2" font-size="13.3" font-style="italic" fill="#111" stroke="#111" stroke-width="0.4" >syk<tspan font-size="7.5" dy="-4.5">-/-</tspan></text>
<path d="M212.60,502.10 L216.60,506.10 L212.60,510.10 L208.60,506.10 Z" fill="#fff" stroke="#111" stroke-width="1.1"/>
<text x="224.2" y="510.09999999999997" font-size="13.6" font-style="italic" fill="#111" stroke="#111" stroke-width="0.4" >CD18<tspan font-size="7.5" dy="-4.5">-/-</tspan></text>
<polyline points="404.50,554.14 415.49,551.79 426.47,530.03 437.45,528.27 448.44,528.27 470.41,541.21 503.37,550.91" fill="none" stroke="#111" stroke-width="1.05"/>
<polyline points="404.50,552.08 415.49,550.03 426.47,526.80 437.45,516.80 448.44,515.04 470.41,532.68 503.37,543.26" fill="none" stroke="#111" stroke-width="1.05"/>
<line x1="437.455" y1="513.6039999999999" x2="437.455" y2="520.004" stroke="#111" stroke-width="0.9" stroke-linecap="butt"/>
<line x1="434.85499999999996" y1="513.6039999999999" x2="440.055" y2="513.6039999999999" stroke="#111" stroke-width="0.9" stroke-linecap="butt"/>
<line x1="434.85499999999996" y1="520.004" x2="440.055" y2="520.004" stroke="#111" stroke-width="0.9" stroke-linecap="butt"/>
<line x1="448.44" y1="510.12799999999993" x2="448.44" y2="521.1279999999999" stroke="#111" stroke-width="0.9" stroke-linecap="butt"/>
<line x1="445.84" y1="510.12799999999993" x2="451.04" y2="510.12799999999993" stroke="#111" stroke-width="0.9" stroke-linecap="butt"/>
<line x1="445.84" y1="521.1279999999999" x2="451.04" y2="521.1279999999999" stroke="#111" stroke-width="0.9" stroke-linecap="butt"/>
<line x1="437.455" y1="524.27" x2="437.455" y2="532.27" stroke="#111" stroke-width="0.9" stroke-linecap="butt"/>
<line x1="434.85499999999996" y1="524.27" x2="440.055" y2="524.27" stroke="#111" stroke-width="0.9" stroke-linecap="butt"/>
<line x1="434.85499999999996" y1="532.27" x2="440.055" y2="532.27" stroke="#111" stroke-width="0.9" stroke-linecap="butt"/>
<line x1="448.44" y1="521.77" x2="448.44" y2="534.77" stroke="#111" stroke-width="0.9" stroke-linecap="butt"/>
<line x1="445.84" y1="521.77" x2="451.04" y2="521.77" stroke="#111" stroke-width="0.9" stroke-linecap="butt"/>
<line x1="445.84" y1="534.77" x2="451.04" y2="534.77" stroke="#111" stroke-width="0.9" stroke-linecap="butt"/>
<line x1="437.455" y1="531.144" x2="437.455" y2="537.7439999999999" stroke="#111" stroke-width="0.9" stroke-linecap="butt"/>
<line x1="434.85499999999996" y1="531.144" x2="440.055" y2="531.144" stroke="#111" stroke-width="0.9" stroke-linecap="butt"/>
<line x1="434.85499999999996" y1="537.7439999999999" x2="440.055" y2="537.7439999999999" stroke="#111" stroke-width="0.9" stroke-linecap="butt"/>
<path d="M404.50,551.34 L407.30,554.14 L404.50,556.94 L401.70,554.14 Z" fill="#fff" stroke="#111" stroke-width="1.1"/>
<path d="M404.50,550.95 L407.40,556.58 L401.60,556.58 Z" fill="#000"/>
<path d="M415.49,548.60 L418.38,554.23 L412.59,554.23 Z" fill="#000"/>
<path d="M426.47,526.84 L429.37,532.47 L423.57,532.47 Z" fill="#000"/>
<path d="M437.45,525.08 L440.35,530.71 L434.56,530.71 Z" fill="#000"/>
<path d="M448.44,525.08 L451.34,530.71 L445.54,530.71 Z" fill="#000"/>
<path d="M470.41,538.02 L473.31,543.64 L467.51,543.64 Z" fill="#000"/>
<path d="M503.37,547.72 L506.26,553.34 L500.47,553.34 Z" fill="#000"/>
<rect x="401.85" y="549.43" width="5.3" height="5.3" fill="#fff" stroke="#111" stroke-width="1.2" />
<rect x="412.84" y="547.38" width="5.3" height="5.3" fill="#fff" stroke="#111" stroke-width="1.2" />
<rect x="423.82" y="524.15" width="5.3" height="5.3" fill="#fff" stroke="#111" stroke-width="1.2" />
<rect x="434.81" y="514.15" width="5.3" height="5.3" fill="#fff" stroke="#111" stroke-width="1.2" />
<rect x="445.79" y="512.39" width="5.3" height="5.3" fill="#fff" stroke="#111" stroke-width="1.2" />
<rect x="467.76" y="530.03" width="5.3" height="5.3" fill="#fff" stroke="#111" stroke-width="1.2" />
<rect x="500.72" y="540.61" width="5.3" height="5.3" fill="#fff" stroke="#111" stroke-width="1.2" />
<path d="M437.45,531.64 L440.25,534.44 L437.45,537.24 L434.65,534.44 Z" fill="#fff" stroke="#111" stroke-width="1.1"/>
<line x1="404.4" y1="505.61999999999995" x2="404.4" y2="571.2" stroke="#111" stroke-width="1.3" stroke-linecap="butt"/>
<line x1="403.79999999999995" y1="570.6" x2="505" y2="570.6" stroke="#111" stroke-width="1.3" stroke-linecap="butt"/>
<line x1="401.2" y1="565.02" x2="404.4" y2="565.02" stroke="#111" stroke-width="1.1" stroke-linecap="butt"/>
<text x="400.9" y="568.02" font-size="8.4" text-anchor="end" fill="#111" stroke="#111" stroke-width="0.2" >2</text>
<line x1="401.2" y1="553.26" x2="404.4" y2="553.26" stroke="#111" stroke-width="1.1" stroke-linecap="butt"/>
<text x="400.9" y="556.26" font-size="8.4" text-anchor="end" fill="#111" stroke="#111" stroke-width="0.2" >6</text>
<line x1="401.2" y1="541.5" x2="404.4" y2="541.5" stroke="#111" stroke-width="1.1" stroke-linecap="butt"/>
<text x="400.9" y="544.5" font-size="8.4" text-anchor="end" textLength="8.3" lengthAdjust="spacingAndGlyphs" fill="#111" stroke="#111" stroke-width="0.2" >10</text>
<line x1="401.2" y1="529.74" x2="404.4" y2="529.74" stroke="#111" stroke-width="1.1" stroke-linecap="butt"/>
<text x="400.9" y="532.74" font-size="8.4" text-anchor="end" textLength="8.3" lengthAdjust="spacingAndGlyphs" fill="#111" stroke="#111" stroke-width="0.2" >14</text>
<line x1="401.2" y1="517.98" x2="404.4" y2="517.98" stroke="#111" stroke-width="1.1" stroke-linecap="butt"/>
<text x="400.9" y="520.98" font-size="8.4" text-anchor="end" textLength="8.3" lengthAdjust="spacingAndGlyphs" fill="#111" stroke="#111" stroke-width="0.2" >18</text>
<line x1="401.2" y1="506.21999999999997" x2="404.4" y2="506.21999999999997" stroke="#111" stroke-width="1.1" stroke-linecap="butt"/>
<text x="400.9" y="509.21999999999997" font-size="8.4" text-anchor="end" textLength="8.3" lengthAdjust="spacingAndGlyphs" fill="#111" stroke="#111" stroke-width="0.2" >22</text>
<line x1="415.485" y1="570.6" x2="415.485" y2="573.8000000000001" stroke="#111" stroke-width="1.1" stroke-linecap="butt"/>
<text x="415.485" y="580.8000000000001" font-size="8.4" text-anchor="middle" fill="#111" stroke="#111" stroke-width="0.2" >5</text>
<line x1="437.455" y1="570.6" x2="437.455" y2="573.8000000000001" stroke="#111" stroke-width="1.1" stroke-linecap="butt"/>
<text x="437.455" y="580.8000000000001" font-size="8.4" text-anchor="middle" textLength="8.3" lengthAdjust="spacingAndGlyphs" fill="#111" stroke="#111" stroke-width="0.2" >15</text>
<line x1="459.425" y1="570.6" x2="459.425" y2="573.8000000000001" stroke="#111" stroke-width="1.1" stroke-linecap="butt"/>
<text x="459.425" y="580.8000000000001" font-size="8.4" text-anchor="middle" textLength="8.3" lengthAdjust="spacingAndGlyphs" fill="#111" stroke="#111" stroke-width="0.2" >25</text>
<line x1="481.395" y1="570.6" x2="481.395" y2="573.8000000000001" stroke="#111" stroke-width="1.1" stroke-linecap="butt"/>
<text x="481.395" y="580.8000000000001" font-size="8.4" text-anchor="middle" textLength="8.3" lengthAdjust="spacingAndGlyphs" fill="#111" stroke="#111" stroke-width="0.2" >35</text>
<line x1="503.365" y1="570.6" x2="503.365" y2="573.8000000000001" stroke="#111" stroke-width="1.1" stroke-linecap="butt"/>
<text x="503.365" y="580.8000000000001" font-size="8.4" text-anchor="middle" textLength="8.3" lengthAdjust="spacingAndGlyphs" fill="#111" stroke="#111" stroke-width="0.2" >45</text>
<text x="388.5" y="572.6" font-size="15" textLength="69.5" lengthAdjust="spacingAndGlyphs" transform="rotate(-90 388.5 572.6)" fill="#111" stroke="#111" stroke-width="0.4" >MFI p-p38</text>
<text x="418" y="598" font-size="15.1" textLength="72.5" lengthAdjust="spacingAndGlyphs" fill="#111" stroke="#111" stroke-width="0.4" >Time (min)</text>
<text x="436.9" y="515.8" font-size="15" text-anchor="middle" fill="#111" stroke="#111" stroke-width="0.4" >**</text>
<text x="448.3" y="510.3" font-size="15" text-anchor="middle" fill="#111" stroke="#111" stroke-width="0.4" >**</text>
<text x="470.1" y="528.5" font-size="15" text-anchor="middle" fill="#111" stroke="#111" stroke-width="0.4" >*</text>
<line x1="460.90000000000003" y1="475.5" x2="472.7" y2="475.5" stroke="#111" stroke-width="1.2" stroke-linecap="butt"/>
<rect x="464.6" y="473.3" width="4.4" height="4.4" fill="#fff" stroke="#111" stroke-width="1.2" />
<text x="476.9" y="481.2" font-size="13.8" textLength="21" lengthAdjust="spacingAndGlyphs" fill="#111" stroke="#111" stroke-width="0.4" >WT</text>
<line x1="460.90000000000003" y1="491.1" x2="472.7" y2="491.1" stroke="#111" stroke-width="1.2" stroke-linecap="butt"/>
<path d="M466.80,486.06 L470.20,492.66 L463.40,492.66 Z" fill="#000"/>
<text x="477.1" y="494.3" font-size="13.3" font-style="italic" fill="#111" stroke="#111" stroke-width="0.4" >syk<tspan font-size="7.5" dy="-4.5">-/-</tspan></text>
<path d="M466.80,501.20 L470.80,505.20 L466.80,509.20 L462.80,505.20 Z" fill="#fff" stroke="#111" stroke-width="1.1"/>
<text x="477.1" y="509.7" font-size="13.6" font-style="italic" fill="#111" stroke="#111" stroke-width="0.4" >CD18<tspan font-size="7.5" dy="-4.5">-/-</tspan></text>
</g>
</svg>
</body></html>
